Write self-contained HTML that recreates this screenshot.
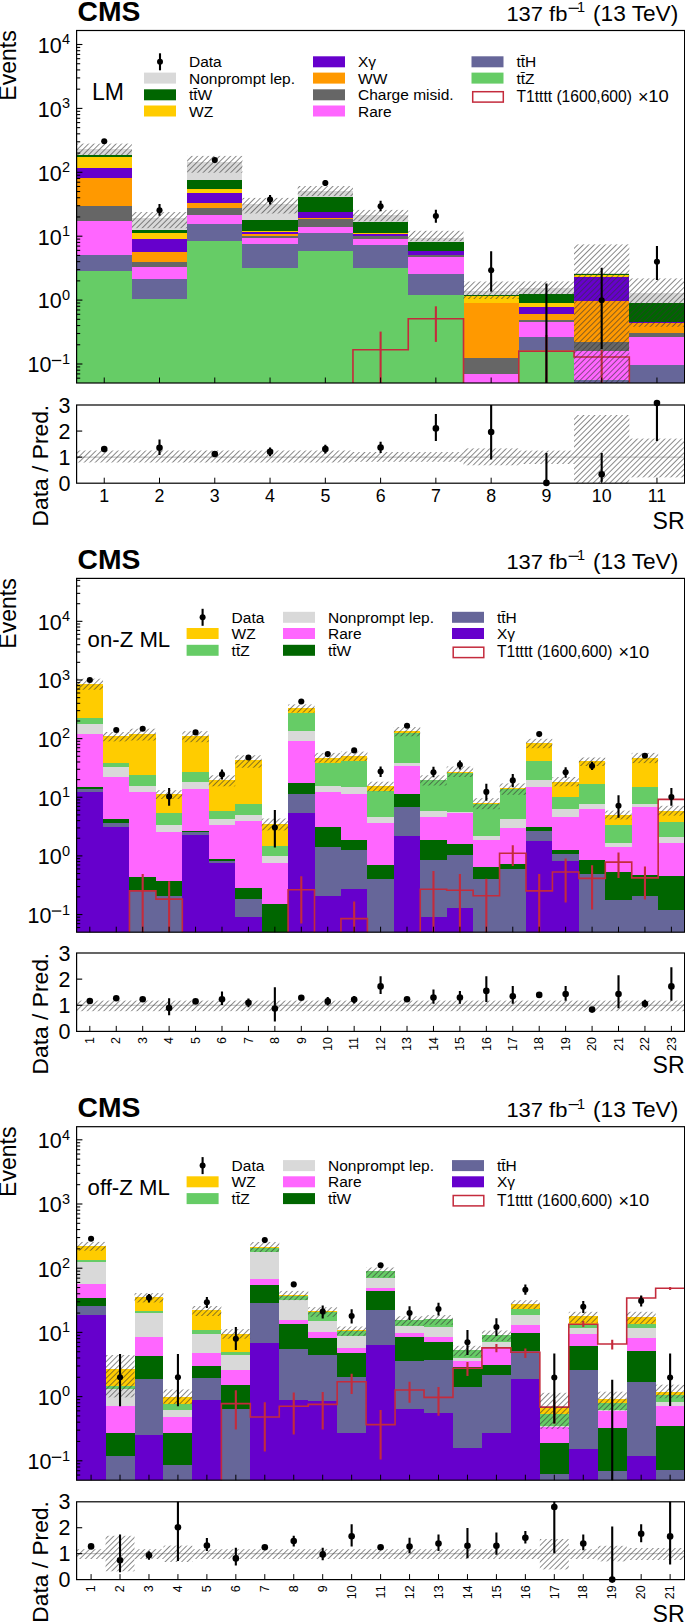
<!DOCTYPE html><html><head><meta charset="utf-8"><style>html,body{margin:0;padding:0;background:#fff;overflow:hidden;width:685px;height:1622px}svg{display:block}</style></head><body>
<svg width="685" height="1622" viewBox="0 0 685 1622" font-family="Liberation Sans, sans-serif" fill="#000">
<defs><pattern id="hatch" patternUnits="userSpaceOnUse" width="3.9" height="3.9" patternTransform="rotate(45)">
<line x1="0" y1="0" x2="0" y2="3.9" stroke="#333" stroke-width="1.15"/></pattern></defs>
<clipPath id="c1"><rect x="76.6" y="30.5" width="608.0" height="352.5"/></clipPath>
<g clip-path="url(#c1)">
<rect x="76.60" y="148.60" width="55.27" height="6.40" fill="#d9d9d9" shape-rendering="crispEdges"/>
<rect x="76.60" y="155.00" width="55.27" height="1.60" fill="#006600" shape-rendering="crispEdges"/>
<rect x="76.60" y="156.60" width="55.27" height="10.90" fill="#ffcc00" shape-rendering="crispEdges"/>
<rect x="76.60" y="167.50" width="55.27" height="10.50" fill="#6600cc" shape-rendering="crispEdges"/>
<rect x="76.60" y="178.00" width="55.27" height="27.80" fill="#ff9900" shape-rendering="crispEdges"/>
<rect x="76.60" y="205.80" width="55.27" height="15.00" fill="#666666" shape-rendering="crispEdges"/>
<rect x="76.60" y="220.80" width="55.27" height="34.40" fill="#ff66ff" shape-rendering="crispEdges"/>
<rect x="76.60" y="255.20" width="55.27" height="15.80" fill="#666699" shape-rendering="crispEdges"/>
<rect x="76.60" y="271.00" width="55.27" height="113.00" fill="#66cc66" shape-rendering="crispEdges"/>
<rect x="131.87" y="217.50" width="55.27" height="12.10" fill="#d9d9d9" shape-rendering="crispEdges"/>
<rect x="131.87" y="229.60" width="55.27" height="3.40" fill="#006600" shape-rendering="crispEdges"/>
<rect x="131.87" y="233.00" width="55.27" height="5.80" fill="#ffcc00" shape-rendering="crispEdges"/>
<rect x="131.87" y="238.80" width="55.27" height="12.90" fill="#6600cc" shape-rendering="crispEdges"/>
<rect x="131.87" y="251.70" width="55.27" height="10.50" fill="#ff9900" shape-rendering="crispEdges"/>
<rect x="131.87" y="262.20" width="55.27" height="5.00" fill="#666666" shape-rendering="crispEdges"/>
<rect x="131.87" y="267.20" width="55.27" height="12.00" fill="#ff66ff" shape-rendering="crispEdges"/>
<rect x="131.87" y="279.20" width="55.27" height="19.60" fill="#666699" shape-rendering="crispEdges"/>
<rect x="131.87" y="298.80" width="55.27" height="85.20" fill="#66cc66" shape-rendering="crispEdges"/>
<rect x="187.15" y="161.80" width="55.27" height="18.00" fill="#d9d9d9" shape-rendering="crispEdges"/>
<rect x="187.15" y="179.80" width="55.27" height="9.20" fill="#006600" shape-rendering="crispEdges"/>
<rect x="187.15" y="189.00" width="55.27" height="3.90" fill="#ffcc00" shape-rendering="crispEdges"/>
<rect x="187.15" y="192.90" width="55.27" height="10.10" fill="#6600cc" shape-rendering="crispEdges"/>
<rect x="187.15" y="203.00" width="55.27" height="4.70" fill="#ff9900" shape-rendering="crispEdges"/>
<rect x="187.15" y="207.70" width="55.27" height="7.30" fill="#666666" shape-rendering="crispEdges"/>
<rect x="187.15" y="215.00" width="55.27" height="8.90" fill="#ff66ff" shape-rendering="crispEdges"/>
<rect x="187.15" y="223.90" width="55.27" height="16.80" fill="#666699" shape-rendering="crispEdges"/>
<rect x="187.15" y="240.70" width="55.27" height="143.30" fill="#66cc66" shape-rendering="crispEdges"/>
<rect x="242.42" y="203.80" width="55.27" height="15.90" fill="#d9d9d9" shape-rendering="crispEdges"/>
<rect x="242.42" y="219.70" width="55.27" height="11.00" fill="#006600" shape-rendering="crispEdges"/>
<rect x="242.42" y="230.70" width="55.27" height="1.30" fill="#ffcc00" shape-rendering="crispEdges"/>
<rect x="242.42" y="232.00" width="55.27" height="2.30" fill="#6600cc" shape-rendering="crispEdges"/>
<rect x="242.42" y="234.30" width="55.27" height="1.40" fill="#ff9900" shape-rendering="crispEdges"/>
<rect x="242.42" y="235.70" width="55.27" height="2.00" fill="#666666" shape-rendering="crispEdges"/>
<rect x="242.42" y="237.70" width="55.27" height="6.70" fill="#ff66ff" shape-rendering="crispEdges"/>
<rect x="242.42" y="244.40" width="55.27" height="24.00" fill="#666699" shape-rendering="crispEdges"/>
<rect x="242.42" y="268.40" width="55.27" height="115.60" fill="#66cc66" shape-rendering="crispEdges"/>
<rect x="297.69" y="191.00" width="55.27" height="5.90" fill="#d9d9d9" shape-rendering="crispEdges"/>
<rect x="297.69" y="196.90" width="55.27" height="15.50" fill="#006600" shape-rendering="crispEdges"/>
<rect x="297.69" y="212.40" width="55.27" height="5.50" fill="#6600cc" shape-rendering="crispEdges"/>
<rect x="297.69" y="217.90" width="55.27" height="1.20" fill="#ff9900" shape-rendering="crispEdges"/>
<rect x="297.69" y="219.10" width="55.27" height="7.70" fill="#666666" shape-rendering="crispEdges"/>
<rect x="297.69" y="226.80" width="55.27" height="5.70" fill="#ff66ff" shape-rendering="crispEdges"/>
<rect x="297.69" y="232.50" width="55.27" height="18.10" fill="#666699" shape-rendering="crispEdges"/>
<rect x="297.69" y="250.60" width="55.27" height="133.40" fill="#66cc66" shape-rendering="crispEdges"/>
<rect x="352.96" y="215.00" width="55.27" height="6.80" fill="#d9d9d9" shape-rendering="crispEdges"/>
<rect x="352.96" y="221.80" width="55.27" height="11.20" fill="#006600" shape-rendering="crispEdges"/>
<rect x="352.96" y="233.00" width="55.27" height="1.20" fill="#ffcc00" shape-rendering="crispEdges"/>
<rect x="352.96" y="234.20" width="55.27" height="1.70" fill="#6600cc" shape-rendering="crispEdges"/>
<rect x="352.96" y="235.90" width="55.27" height="3.00" fill="#666666" shape-rendering="crispEdges"/>
<rect x="352.96" y="238.90" width="55.27" height="6.20" fill="#ff66ff" shape-rendering="crispEdges"/>
<rect x="352.96" y="245.10" width="55.27" height="23.20" fill="#666699" shape-rendering="crispEdges"/>
<rect x="352.96" y="268.30" width="55.27" height="115.70" fill="#66cc66" shape-rendering="crispEdges"/>
<rect x="408.24" y="237.80" width="55.27" height="4.20" fill="#d9d9d9" shape-rendering="crispEdges"/>
<rect x="408.24" y="242.00" width="55.27" height="9.30" fill="#006600" shape-rendering="crispEdges"/>
<rect x="408.24" y="251.30" width="55.27" height="3.30" fill="#6600cc" shape-rendering="crispEdges"/>
<rect x="408.24" y="254.60" width="55.27" height="2.50" fill="#666666" shape-rendering="crispEdges"/>
<rect x="408.24" y="257.10" width="55.27" height="16.50" fill="#ff66ff" shape-rendering="crispEdges"/>
<rect x="408.24" y="273.60" width="55.27" height="21.30" fill="#666699" shape-rendering="crispEdges"/>
<rect x="408.24" y="294.90" width="55.27" height="89.10" fill="#66cc66" shape-rendering="crispEdges"/>
<rect x="463.51" y="290.70" width="55.27" height="4.30" fill="#d9d9d9" shape-rendering="crispEdges"/>
<rect x="463.51" y="295.00" width="55.27" height="1.00" fill="#006600" shape-rendering="crispEdges"/>
<rect x="463.51" y="296.00" width="55.27" height="6.50" fill="#ffcc00" shape-rendering="crispEdges"/>
<rect x="463.51" y="302.50" width="55.27" height="55.40" fill="#ff9900" shape-rendering="crispEdges"/>
<rect x="463.51" y="357.90" width="55.27" height="15.90" fill="#666666" shape-rendering="crispEdges"/>
<rect x="463.51" y="373.80" width="55.27" height="10.20" fill="#ff66ff" shape-rendering="crispEdges"/>
<rect x="518.78" y="288.30" width="55.27" height="5.70" fill="#d9d9d9" shape-rendering="crispEdges"/>
<rect x="518.78" y="294.00" width="55.27" height="8.70" fill="#006600" shape-rendering="crispEdges"/>
<rect x="518.78" y="302.70" width="55.27" height="4.70" fill="#ffcc00" shape-rendering="crispEdges"/>
<rect x="518.78" y="307.40" width="55.27" height="7.00" fill="#6600cc" shape-rendering="crispEdges"/>
<rect x="518.78" y="314.40" width="55.27" height="5.40" fill="#ff9900" shape-rendering="crispEdges"/>
<rect x="518.78" y="319.80" width="55.27" height="2.00" fill="#666666" shape-rendering="crispEdges"/>
<rect x="518.78" y="321.80" width="55.27" height="14.90" fill="#ff66ff" shape-rendering="crispEdges"/>
<rect x="518.78" y="336.70" width="55.27" height="13.60" fill="#666699" shape-rendering="crispEdges"/>
<rect x="518.78" y="350.30" width="55.27" height="33.70" fill="#66cc66" shape-rendering="crispEdges"/>
<rect x="574.05" y="272.70" width="55.27" height="0.80" fill="#d9d9d9" shape-rendering="crispEdges"/>
<rect x="574.05" y="273.50" width="55.27" height="1.00" fill="#006600" shape-rendering="crispEdges"/>
<rect x="574.05" y="274.50" width="55.27" height="2.60" fill="#ffcc00" shape-rendering="crispEdges"/>
<rect x="574.05" y="277.10" width="55.27" height="23.60" fill="#6600cc" shape-rendering="crispEdges"/>
<rect x="574.05" y="300.70" width="55.27" height="41.70" fill="#ff9900" shape-rendering="crispEdges"/>
<rect x="574.05" y="342.40" width="55.27" height="8.70" fill="#666666" shape-rendering="crispEdges"/>
<rect x="574.05" y="351.10" width="55.27" height="29.00" fill="#ff66ff" shape-rendering="crispEdges"/>
<rect x="574.05" y="380.10" width="55.27" height="3.90" fill="#666699" shape-rendering="crispEdges"/>
<rect x="629.33" y="293.30" width="55.27" height="9.90" fill="#d9d9d9" shape-rendering="crispEdges"/>
<rect x="629.33" y="303.20" width="55.27" height="18.60" fill="#006600" shape-rendering="crispEdges"/>
<rect x="629.33" y="321.80" width="55.27" height="1.20" fill="#6600cc" shape-rendering="crispEdges"/>
<rect x="629.33" y="323.00" width="55.27" height="10.00" fill="#ff9900" shape-rendering="crispEdges"/>
<rect x="629.33" y="333.00" width="55.27" height="4.20" fill="#666666" shape-rendering="crispEdges"/>
<rect x="629.33" y="337.20" width="55.27" height="27.50" fill="#ff66ff" shape-rendering="crispEdges"/>
<rect x="629.33" y="364.70" width="55.27" height="19.30" fill="#666699" shape-rendering="crispEdges"/>
<path d="M76.60,385.00 L131.87,385.00 L131.87,385.00 L187.15,385.00 L187.15,385.00 L242.42,385.00 L242.42,385.00 L297.69,385.00 L297.69,385.00 L352.96,385.00 L352.96,349.70 L408.24,349.70 L408.24,318.80 L463.51,318.80 L463.51,385.00 L518.78,385.00 L518.78,351.10 L574.05,351.10 L574.05,357.00 L629.33,357.00 L629.33,385.00 L684.60,385.00" fill="none" stroke="#c42b3c" stroke-width="1.6"/>
<line x1="380.60" y1="331.60" x2="380.60" y2="390.00" stroke="#c42b3c" stroke-width="2.1"/>
<line x1="435.87" y1="306.30" x2="435.87" y2="341.90" stroke="#c42b3c" stroke-width="2.1"/>
<line x1="546.42" y1="335.00" x2="546.42" y2="390.00" stroke="#c42b3c" stroke-width="2.1"/>
<line x1="601.69" y1="349.90" x2="601.69" y2="390.00" stroke="#c42b3c" stroke-width="2.1"/>
<rect x="76.60" y="143.60" width="55.27" height="11.40" fill="url(#hatch)"/>
<rect x="131.87" y="212.00" width="55.27" height="16.20" fill="url(#hatch)"/>
<rect x="187.15" y="155.90" width="55.27" height="16.80" fill="url(#hatch)"/>
<rect x="242.42" y="197.90" width="55.27" height="15.60" fill="url(#hatch)"/>
<rect x="297.69" y="186.00" width="55.27" height="10.10" fill="url(#hatch)"/>
<rect x="352.96" y="209.90" width="55.27" height="11.40" fill="url(#hatch)"/>
<rect x="408.24" y="230.80" width="55.27" height="10.40" fill="url(#hatch)"/>
<rect x="463.51" y="281.50" width="55.27" height="17.50" fill="url(#hatch)"/>
<rect x="518.78" y="281.40" width="55.27" height="13.10" fill="url(#hatch)"/>
<rect x="574.05" y="244.40" width="55.27" height="145.60" fill="url(#hatch)"/>
<rect x="629.33" y="278.40" width="55.27" height="48.40" fill="url(#hatch)"/>
<circle cx="104.24" cy="141.30" r="3.05" fill="#000"/>
<line x1="159.51" y1="204.00" x2="159.51" y2="215.80" stroke="#000" stroke-width="2.1"/>
<circle cx="159.51" cy="210.20" r="3.05" fill="#000"/>
<circle cx="214.78" cy="160.10" r="3.05" fill="#000"/>
<line x1="270.05" y1="195.00" x2="270.05" y2="204.60" stroke="#000" stroke-width="2.1"/>
<circle cx="270.05" cy="199.60" r="3.05" fill="#000"/>
<line x1="325.33" y1="180.00" x2="325.33" y2="186.00" stroke="#000" stroke-width="2.1"/>
<circle cx="325.33" cy="183.00" r="3.05" fill="#000"/>
<line x1="380.60" y1="200.80" x2="380.60" y2="211.20" stroke="#000" stroke-width="2.1"/>
<circle cx="380.60" cy="206.20" r="3.05" fill="#000"/>
<line x1="435.87" y1="209.80" x2="435.87" y2="222.70" stroke="#000" stroke-width="2.1"/>
<circle cx="435.87" cy="216.00" r="3.05" fill="#000"/>
<line x1="491.15" y1="251.30" x2="491.15" y2="291.60" stroke="#000" stroke-width="2.1"/>
<circle cx="491.15" cy="270.20" r="3.05" fill="#000"/>
<line x1="546.42" y1="283.40" x2="546.42" y2="390.00" stroke="#000" stroke-width="2.1"/>
<line x1="601.69" y1="267.70" x2="601.69" y2="349.10" stroke="#000" stroke-width="2.1"/>
<circle cx="601.69" cy="300.20" r="3.05" fill="#000"/>
<line x1="656.96" y1="246.10" x2="656.96" y2="280.10" stroke="#000" stroke-width="2.1"/>
<circle cx="656.96" cy="261.80" r="3.05" fill="#000"/>
</g>
<rect x="76.6" y="30.5" width="608.0" height="352.5" fill="none" stroke="#000" stroke-width="1.2"/>
<line x1="76.6" y1="378.18" x2="80.19999999999999" y2="378.18" stroke="#000" stroke-width="1.1"/>
<line x1="76.6" y1="373.90" x2="80.19999999999999" y2="373.90" stroke="#000" stroke-width="1.1"/>
<line x1="76.6" y1="370.19" x2="80.19999999999999" y2="370.19" stroke="#000" stroke-width="1.1"/>
<line x1="76.6" y1="366.92" x2="80.19999999999999" y2="366.92" stroke="#000" stroke-width="1.1"/>
<line x1="76.6" y1="364.00" x2="82.39999999999999" y2="364.00" stroke="#000" stroke-width="1.1"/>
<line x1="76.6" y1="344.76" x2="80.19999999999999" y2="344.76" stroke="#000" stroke-width="1.1"/>
<line x1="76.6" y1="333.51" x2="80.19999999999999" y2="333.51" stroke="#000" stroke-width="1.1"/>
<line x1="76.6" y1="325.53" x2="80.19999999999999" y2="325.53" stroke="#000" stroke-width="1.1"/>
<line x1="76.6" y1="319.34" x2="80.19999999999999" y2="319.34" stroke="#000" stroke-width="1.1"/>
<line x1="76.6" y1="314.28" x2="80.19999999999999" y2="314.28" stroke="#000" stroke-width="1.1"/>
<line x1="76.6" y1="310.00" x2="80.19999999999999" y2="310.00" stroke="#000" stroke-width="1.1"/>
<line x1="76.6" y1="306.29" x2="80.19999999999999" y2="306.29" stroke="#000" stroke-width="1.1"/>
<line x1="76.6" y1="303.02" x2="80.19999999999999" y2="303.02" stroke="#000" stroke-width="1.1"/>
<line x1="76.6" y1="300.10" x2="82.39999999999999" y2="300.10" stroke="#000" stroke-width="1.1"/>
<line x1="76.6" y1="280.86" x2="80.19999999999999" y2="280.86" stroke="#000" stroke-width="1.1"/>
<line x1="76.6" y1="269.61" x2="80.19999999999999" y2="269.61" stroke="#000" stroke-width="1.1"/>
<line x1="76.6" y1="261.63" x2="80.19999999999999" y2="261.63" stroke="#000" stroke-width="1.1"/>
<line x1="76.6" y1="255.44" x2="80.19999999999999" y2="255.44" stroke="#000" stroke-width="1.1"/>
<line x1="76.6" y1="250.38" x2="80.19999999999999" y2="250.38" stroke="#000" stroke-width="1.1"/>
<line x1="76.6" y1="246.10" x2="80.19999999999999" y2="246.10" stroke="#000" stroke-width="1.1"/>
<line x1="76.6" y1="242.39" x2="80.19999999999999" y2="242.39" stroke="#000" stroke-width="1.1"/>
<line x1="76.6" y1="239.12" x2="80.19999999999999" y2="239.12" stroke="#000" stroke-width="1.1"/>
<line x1="76.6" y1="236.20" x2="82.39999999999999" y2="236.20" stroke="#000" stroke-width="1.1"/>
<line x1="76.6" y1="216.96" x2="80.19999999999999" y2="216.96" stroke="#000" stroke-width="1.1"/>
<line x1="76.6" y1="205.71" x2="80.19999999999999" y2="205.71" stroke="#000" stroke-width="1.1"/>
<line x1="76.6" y1="197.73" x2="80.19999999999999" y2="197.73" stroke="#000" stroke-width="1.1"/>
<line x1="76.6" y1="191.54" x2="80.19999999999999" y2="191.54" stroke="#000" stroke-width="1.1"/>
<line x1="76.6" y1="186.48" x2="80.19999999999999" y2="186.48" stroke="#000" stroke-width="1.1"/>
<line x1="76.6" y1="182.20" x2="80.19999999999999" y2="182.20" stroke="#000" stroke-width="1.1"/>
<line x1="76.6" y1="178.49" x2="80.19999999999999" y2="178.49" stroke="#000" stroke-width="1.1"/>
<line x1="76.6" y1="175.22" x2="80.19999999999999" y2="175.22" stroke="#000" stroke-width="1.1"/>
<line x1="76.6" y1="172.30" x2="82.39999999999999" y2="172.30" stroke="#000" stroke-width="1.1"/>
<line x1="76.6" y1="153.06" x2="80.19999999999999" y2="153.06" stroke="#000" stroke-width="1.1"/>
<line x1="76.6" y1="141.81" x2="80.19999999999999" y2="141.81" stroke="#000" stroke-width="1.1"/>
<line x1="76.6" y1="133.83" x2="80.19999999999999" y2="133.83" stroke="#000" stroke-width="1.1"/>
<line x1="76.6" y1="127.64" x2="80.19999999999999" y2="127.64" stroke="#000" stroke-width="1.1"/>
<line x1="76.6" y1="122.58" x2="80.19999999999999" y2="122.58" stroke="#000" stroke-width="1.1"/>
<line x1="76.6" y1="118.30" x2="80.19999999999999" y2="118.30" stroke="#000" stroke-width="1.1"/>
<line x1="76.6" y1="114.59" x2="80.19999999999999" y2="114.59" stroke="#000" stroke-width="1.1"/>
<line x1="76.6" y1="111.32" x2="80.19999999999999" y2="111.32" stroke="#000" stroke-width="1.1"/>
<line x1="76.6" y1="108.40" x2="82.39999999999999" y2="108.40" stroke="#000" stroke-width="1.1"/>
<line x1="76.6" y1="89.16" x2="80.19999999999999" y2="89.16" stroke="#000" stroke-width="1.1"/>
<line x1="76.6" y1="77.91" x2="80.19999999999999" y2="77.91" stroke="#000" stroke-width="1.1"/>
<line x1="76.6" y1="69.93" x2="80.19999999999999" y2="69.93" stroke="#000" stroke-width="1.1"/>
<line x1="76.6" y1="63.74" x2="80.19999999999999" y2="63.74" stroke="#000" stroke-width="1.1"/>
<line x1="76.6" y1="58.68" x2="80.19999999999999" y2="58.68" stroke="#000" stroke-width="1.1"/>
<line x1="76.6" y1="54.40" x2="80.19999999999999" y2="54.40" stroke="#000" stroke-width="1.1"/>
<line x1="76.6" y1="50.69" x2="80.19999999999999" y2="50.69" stroke="#000" stroke-width="1.1"/>
<line x1="76.6" y1="47.42" x2="80.19999999999999" y2="47.42" stroke="#000" stroke-width="1.1"/>
<line x1="76.6" y1="44.50" x2="82.39999999999999" y2="44.50" stroke="#000" stroke-width="1.1"/>
<line x1="104.24" y1="383" x2="104.24" y2="377.5" stroke="#000" stroke-width="1"/>
<line x1="159.51" y1="383" x2="159.51" y2="377.5" stroke="#000" stroke-width="1"/>
<line x1="214.78" y1="383" x2="214.78" y2="377.5" stroke="#000" stroke-width="1"/>
<line x1="270.05" y1="383" x2="270.05" y2="377.5" stroke="#000" stroke-width="1"/>
<line x1="325.33" y1="383" x2="325.33" y2="377.5" stroke="#000" stroke-width="1"/>
<line x1="380.60" y1="383" x2="380.60" y2="377.5" stroke="#000" stroke-width="1"/>
<line x1="435.87" y1="383" x2="435.87" y2="377.5" stroke="#000" stroke-width="1"/>
<line x1="491.15" y1="383" x2="491.15" y2="377.5" stroke="#000" stroke-width="1"/>
<line x1="546.42" y1="383" x2="546.42" y2="377.5" stroke="#000" stroke-width="1"/>
<line x1="601.69" y1="383" x2="601.69" y2="377.5" stroke="#000" stroke-width="1"/>
<line x1="656.96" y1="383" x2="656.96" y2="377.5" stroke="#000" stroke-width="1"/>
<text x="51.4" y="372.30" font-size="21.5" text-anchor="end">10</text>
<line x1="51.8" y1="360.50" x2="61.3" y2="360.50" stroke="#000" stroke-width="1.3"/>
<text x="70.1" y="364.00" font-size="14.5" text-anchor="end">1</text>
<text x="61.6" y="308.40" font-size="21.5" text-anchor="end">10</text>
<text x="70.2" y="299.80" font-size="14.5" text-anchor="end">0</text>
<text x="61.6" y="244.50" font-size="21.5" text-anchor="end">10</text>
<text x="70.2" y="235.90" font-size="14.5" text-anchor="end">1</text>
<text x="61.6" y="180.60" font-size="21.5" text-anchor="end">10</text>
<text x="70.2" y="172.00" font-size="14.5" text-anchor="end">2</text>
<text x="61.6" y="116.70" font-size="21.5" text-anchor="end">10</text>
<text x="70.2" y="108.10" font-size="14.5" text-anchor="end">3</text>
<text x="61.6" y="52.80" font-size="21.5" text-anchor="end">10</text>
<text x="70.2" y="44.20" font-size="14.5" text-anchor="end">4</text>
<text x="77.50" y="20.50" font-size="28.3" text-anchor="start" font-weight="bold" >CMS</text>
<text x="506.4" y="20.70" font-size="21" textLength="61" lengthAdjust="spacingAndGlyphs">137 fb</text>
<line x1="568.6" y1="8.30" x2="578.8" y2="8.30" stroke="#000" stroke-width="1.2"/>
<text x="585" y="12.40" font-size="14.5" text-anchor="end">1</text>
<text x="593" y="20.70" font-size="21.5" textLength="85.3" lengthAdjust="spacingAndGlyphs">(13 TeV)</text>
<text transform="translate(16.3,30.3) rotate(-90)" font-size="23" text-anchor="end">Events</text>
<clipPath id="r1"><rect x="76.6" y="405" width="608.0" height="78.19999999999999"/></clipPath>
<g clip-path="url(#r1)">
<line x1="76.6" y1="457.13" x2="684.6" y2="457.13" stroke="#b8b8b8" stroke-width="1"/>
<rect x="76.60" y="450.50" width="55.27" height="12.00" fill="url(#hatch)"/>
<rect x="131.87" y="450.50" width="55.27" height="12.00" fill="url(#hatch)"/>
<rect x="187.15" y="450.50" width="55.27" height="12.00" fill="url(#hatch)"/>
<rect x="242.42" y="450.50" width="55.27" height="12.00" fill="url(#hatch)"/>
<rect x="297.69" y="450.50" width="55.27" height="12.00" fill="url(#hatch)"/>
<rect x="352.96" y="452.00" width="55.27" height="9.80" fill="url(#hatch)"/>
<rect x="408.24" y="452.00" width="55.27" height="9.80" fill="url(#hatch)"/>
<rect x="463.51" y="448.40" width="55.27" height="16.90" fill="url(#hatch)"/>
<rect x="518.78" y="450.60" width="55.27" height="13.40" fill="url(#hatch)"/>
<rect x="574.05" y="415.00" width="55.27" height="75.00" fill="url(#hatch)"/>
<rect x="629.33" y="438.60" width="55.27" height="38.80" fill="url(#hatch)"/>
<line x1="159.51" y1="439.40" x2="159.51" y2="454.90" stroke="#000" stroke-width="2.1"/>
<line x1="270.05" y1="447.50" x2="270.05" y2="456.20" stroke="#000" stroke-width="2.1"/>
<line x1="325.33" y1="444.70" x2="325.33" y2="453.50" stroke="#000" stroke-width="2.1"/>
<line x1="380.60" y1="441.80" x2="380.60" y2="453.00" stroke="#000" stroke-width="2.1"/>
<line x1="435.87" y1="414.10" x2="435.87" y2="440.90" stroke="#000" stroke-width="2.1"/>
<line x1="491.15" y1="403.00" x2="491.15" y2="459.60" stroke="#000" stroke-width="2.1"/>
<line x1="546.42" y1="452.90" x2="546.42" y2="482.90" stroke="#000" stroke-width="2.1"/>
<line x1="601.69" y1="452.90" x2="601.69" y2="481.80" stroke="#000" stroke-width="2.1"/>
<line x1="656.96" y1="403.00" x2="656.96" y2="440.90" stroke="#000" stroke-width="2.1"/>
</g>
<circle cx="104.24" cy="449.10" r="3.3" fill="#000"/>
<circle cx="159.51" cy="447.80" r="3.3" fill="#000"/>
<circle cx="214.78" cy="454.00" r="3.3" fill="#000"/>
<circle cx="270.05" cy="451.80" r="3.3" fill="#000"/>
<circle cx="325.33" cy="449.10" r="3.3" fill="#000"/>
<circle cx="380.60" cy="447.50" r="3.3" fill="#000"/>
<circle cx="435.87" cy="428.40" r="3.3" fill="#000"/>
<circle cx="491.15" cy="432.00" r="3.3" fill="#000"/>
<circle cx="546.42" cy="482.90" r="3.3" fill="#000"/>
<circle cx="601.69" cy="474.30" r="3.3" fill="#000"/>
<circle cx="656.96" cy="403.00" r="3.3" fill="#000"/>
<rect x="76.6" y="405" width="608.0" height="78.19999999999999" fill="none" stroke="#000" stroke-width="1.2"/>
<line x1="76.6" y1="457.13" x2="82.19999999999999" y2="457.13" stroke="#000" stroke-width="1.1"/>
<line x1="76.6" y1="431.07" x2="82.19999999999999" y2="431.07" stroke="#000" stroke-width="1.1"/>
<line x1="104.24" y1="483.2" x2="104.24" y2="477.7" stroke="#000" stroke-width="1"/>
<line x1="159.51" y1="483.2" x2="159.51" y2="477.7" stroke="#000" stroke-width="1"/>
<line x1="214.78" y1="483.2" x2="214.78" y2="477.7" stroke="#000" stroke-width="1"/>
<line x1="270.05" y1="483.2" x2="270.05" y2="477.7" stroke="#000" stroke-width="1"/>
<line x1="325.33" y1="483.2" x2="325.33" y2="477.7" stroke="#000" stroke-width="1"/>
<line x1="380.60" y1="483.2" x2="380.60" y2="477.7" stroke="#000" stroke-width="1"/>
<line x1="435.87" y1="483.2" x2="435.87" y2="477.7" stroke="#000" stroke-width="1"/>
<line x1="491.15" y1="483.2" x2="491.15" y2="477.7" stroke="#000" stroke-width="1"/>
<line x1="546.42" y1="483.2" x2="546.42" y2="477.7" stroke="#000" stroke-width="1"/>
<line x1="601.69" y1="483.2" x2="601.69" y2="477.7" stroke="#000" stroke-width="1"/>
<line x1="656.96" y1="483.2" x2="656.96" y2="477.7" stroke="#000" stroke-width="1"/>
<text x="70.5" y="490.80" font-size="21.5" text-anchor="end">0</text>
<text x="70.5" y="464.73" font-size="21.5" text-anchor="end">1</text>
<text x="70.5" y="438.67" font-size="21.5" text-anchor="end">2</text>
<text x="70.5" y="412.60" font-size="21.5" text-anchor="end">3</text>
<text transform="translate(47.8,404.8) rotate(-90)" font-size="22.8" text-anchor="end">Data / Pred.</text>
<text x="104.24" y="502.4" font-size="17.8" text-anchor="middle">1</text>
<text x="159.51" y="502.4" font-size="17.8" text-anchor="middle">2</text>
<text x="214.78" y="502.4" font-size="17.8" text-anchor="middle">3</text>
<text x="270.05" y="502.4" font-size="17.8" text-anchor="middle">4</text>
<text x="325.33" y="502.4" font-size="17.8" text-anchor="middle">5</text>
<text x="380.60" y="502.4" font-size="17.8" text-anchor="middle">6</text>
<text x="435.87" y="502.4" font-size="17.8" text-anchor="middle">7</text>
<text x="491.15" y="502.4" font-size="17.8" text-anchor="middle">8</text>
<text x="546.42" y="502.4" font-size="17.8" text-anchor="middle">9</text>
<text x="601.69" y="502.4" font-size="17.8" text-anchor="middle">10</text>
<text x="656.96" y="502.4" font-size="17.8" text-anchor="middle">11</text>
<text x="684.6" y="528.7" font-size="23.1" text-anchor="end">SR</text>
<text x="92.00" y="99.60" font-size="23" text-anchor="start" font-weight="normal" >LM</text>
<line x1="160.00" y1="53.30" x2="160.00" y2="70.30" stroke="#000" stroke-width="2.1"/>
<circle cx="160.00" cy="61.80" r="3" fill="#000"/>
<text x="189.00" y="67.30" font-size="15.5">Data</text>
<rect x="144.00" y="72.60" width="32" height="11" fill="#d9d9d9"/>
<text x="189.00" y="83.60" font-size="15.5">Nonprompt lep.</text>
<rect x="144.00" y="89.30" width="32" height="11" fill="#006600"/>
<text x="189.00" y="100.30" font-size="15.5">tt&#772;W</text>
<rect x="144.00" y="105.50" width="32" height="11" fill="#ffcc00"/>
<text x="189.00" y="116.50" font-size="15.5">WZ</text>
<rect x="313.00" y="56.30" width="32" height="11" fill="#6600cc"/>
<text x="358.00" y="67.30" font-size="15.5">X&#947;</text>
<rect x="313.00" y="72.60" width="32" height="11" fill="#ff9900"/>
<text x="358.00" y="83.60" font-size="15.5">WW</text>
<rect x="313.00" y="89.30" width="32" height="11" fill="#666666"/>
<text x="358.00" y="100.30" font-size="15.5">Charge misid.</text>
<rect x="313.00" y="105.50" width="32" height="11" fill="#ff66ff"/>
<text x="358.00" y="116.50" font-size="15.5">Rare</text>
<rect x="471.50" y="56.30" width="32" height="11" fill="#666699"/>
<text x="516.50" y="67.30" font-size="15.5">tt&#772;H</text>
<rect x="471.50" y="72.60" width="32" height="11" fill="#66cc66"/>
<text x="516.50" y="83.60" font-size="15.5">tt&#772;Z</text>
<rect x="472.70" y="91.70" width="30.6" height="10.4" fill="none" stroke="#c42b3c" stroke-width="1.5"/>
<text x="516.50" y="101.70" font-size="16.2" textLength="115.4" lengthAdjust="spacingAndGlyphs">T1tttt (1600,600)</text>
<text x="638.00" y="102.90" font-size="18">&#215;</text>
<text x="648.30" y="102.00" font-size="16.5" textLength="20.5" lengthAdjust="spacingAndGlyphs">10</text>
<clipPath id="c2"><rect x="76.6" y="578.4" width="608.0" height="353.80000000000007"/></clipPath>
<g clip-path="url(#c2)">
<rect x="76.60" y="683.70" width="26.43" height="34.30" fill="#ffcc00" shape-rendering="crispEdges"/>
<rect x="76.60" y="718.00" width="26.43" height="6.10" fill="#66cc66" shape-rendering="crispEdges"/>
<rect x="76.60" y="724.10" width="26.43" height="9.70" fill="#d9d9d9" shape-rendering="crispEdges"/>
<rect x="76.60" y="733.80" width="26.43" height="53.40" fill="#ff66ff" shape-rendering="crispEdges"/>
<rect x="76.60" y="787.20" width="26.43" height="1.70" fill="#006600" shape-rendering="crispEdges"/>
<rect x="76.60" y="788.90" width="26.43" height="3.00" fill="#666699" shape-rendering="crispEdges"/>
<rect x="76.60" y="791.90" width="26.43" height="141.30" fill="#6600cc" shape-rendering="crispEdges"/>
<rect x="103.03" y="736.30" width="26.43" height="26.30" fill="#ffcc00" shape-rendering="crispEdges"/>
<rect x="103.03" y="762.60" width="26.43" height="4.60" fill="#66cc66" shape-rendering="crispEdges"/>
<rect x="103.03" y="767.20" width="26.43" height="9.80" fill="#d9d9d9" shape-rendering="crispEdges"/>
<rect x="103.03" y="777.00" width="26.43" height="41.50" fill="#ff66ff" shape-rendering="crispEdges"/>
<rect x="103.03" y="818.50" width="26.43" height="4.60" fill="#006600" shape-rendering="crispEdges"/>
<rect x="103.03" y="823.10" width="26.43" height="3.60" fill="#666699" shape-rendering="crispEdges"/>
<rect x="103.03" y="826.70" width="26.43" height="106.50" fill="#6600cc" shape-rendering="crispEdges"/>
<rect x="129.47" y="733.80" width="26.43" height="41.20" fill="#ffcc00" shape-rendering="crispEdges"/>
<rect x="129.47" y="775.00" width="26.43" height="11.00" fill="#66cc66" shape-rendering="crispEdges"/>
<rect x="129.47" y="786.00" width="26.43" height="5.90" fill="#d9d9d9" shape-rendering="crispEdges"/>
<rect x="129.47" y="791.90" width="26.43" height="84.80" fill="#ff66ff" shape-rendering="crispEdges"/>
<rect x="129.47" y="876.70" width="26.43" height="14.20" fill="#006600" shape-rendering="crispEdges"/>
<rect x="129.47" y="890.90" width="26.43" height="42.30" fill="#666699" shape-rendering="crispEdges"/>
<rect x="155.90" y="794.00" width="26.43" height="19.40" fill="#ffcc00" shape-rendering="crispEdges"/>
<rect x="155.90" y="813.40" width="26.43" height="11.90" fill="#66cc66" shape-rendering="crispEdges"/>
<rect x="155.90" y="825.30" width="26.43" height="6.30" fill="#d9d9d9" shape-rendering="crispEdges"/>
<rect x="155.90" y="831.60" width="26.43" height="49.70" fill="#ff66ff" shape-rendering="crispEdges"/>
<rect x="155.90" y="881.30" width="26.43" height="14.40" fill="#006600" shape-rendering="crispEdges"/>
<rect x="155.90" y="895.70" width="26.43" height="37.50" fill="#666699" shape-rendering="crispEdges"/>
<rect x="182.34" y="736.00" width="26.43" height="36.40" fill="#ffcc00" shape-rendering="crispEdges"/>
<rect x="182.34" y="772.40" width="26.43" height="9.30" fill="#66cc66" shape-rendering="crispEdges"/>
<rect x="182.34" y="781.70" width="26.43" height="7.20" fill="#d9d9d9" shape-rendering="crispEdges"/>
<rect x="182.34" y="788.90" width="26.43" height="42.30" fill="#ff66ff" shape-rendering="crispEdges"/>
<rect x="182.34" y="831.20" width="26.43" height="1.10" fill="#006600" shape-rendering="crispEdges"/>
<rect x="182.34" y="832.30" width="26.43" height="2.30" fill="#666699" shape-rendering="crispEdges"/>
<rect x="182.34" y="834.60" width="26.43" height="98.60" fill="#6600cc" shape-rendering="crispEdges"/>
<rect x="208.77" y="780.00" width="26.43" height="30.90" fill="#ffcc00" shape-rendering="crispEdges"/>
<rect x="208.77" y="810.90" width="26.43" height="8.00" fill="#66cc66" shape-rendering="crispEdges"/>
<rect x="208.77" y="818.90" width="26.43" height="5.90" fill="#d9d9d9" shape-rendering="crispEdges"/>
<rect x="208.77" y="824.80" width="26.43" height="33.90" fill="#ff66ff" shape-rendering="crispEdges"/>
<rect x="208.77" y="858.70" width="26.43" height="2.20" fill="#006600" shape-rendering="crispEdges"/>
<rect x="208.77" y="860.90" width="26.43" height="2.10" fill="#666699" shape-rendering="crispEdges"/>
<rect x="208.77" y="863.00" width="26.43" height="70.20" fill="#6600cc" shape-rendering="crispEdges"/>
<rect x="235.21" y="760.00" width="26.43" height="44.10" fill="#ffcc00" shape-rendering="crispEdges"/>
<rect x="235.21" y="804.10" width="26.43" height="11.00" fill="#66cc66" shape-rendering="crispEdges"/>
<rect x="235.21" y="815.10" width="26.43" height="5.60" fill="#d9d9d9" shape-rendering="crispEdges"/>
<rect x="235.21" y="820.70" width="26.43" height="67.30" fill="#ff66ff" shape-rendering="crispEdges"/>
<rect x="235.21" y="888.00" width="26.43" height="11.10" fill="#006600" shape-rendering="crispEdges"/>
<rect x="235.21" y="899.10" width="26.43" height="18.30" fill="#666699" shape-rendering="crispEdges"/>
<rect x="235.21" y="917.40" width="26.43" height="15.80" fill="#6600cc" shape-rendering="crispEdges"/>
<rect x="261.64" y="823.60" width="26.43" height="22.60" fill="#ffcc00" shape-rendering="crispEdges"/>
<rect x="261.64" y="846.20" width="26.43" height="9.60" fill="#66cc66" shape-rendering="crispEdges"/>
<rect x="261.64" y="855.80" width="26.43" height="6.80" fill="#d9d9d9" shape-rendering="crispEdges"/>
<rect x="261.64" y="862.60" width="26.43" height="41.60" fill="#ff66ff" shape-rendering="crispEdges"/>
<rect x="261.64" y="904.20" width="26.43" height="29.00" fill="#006600" shape-rendering="crispEdges"/>
<rect x="288.08" y="708.30" width="26.43" height="4.30" fill="#ffcc00" shape-rendering="crispEdges"/>
<rect x="288.08" y="712.60" width="26.43" height="18.30" fill="#66cc66" shape-rendering="crispEdges"/>
<rect x="288.08" y="730.90" width="26.43" height="10.10" fill="#d9d9d9" shape-rendering="crispEdges"/>
<rect x="288.08" y="741.00" width="26.43" height="42.30" fill="#ff66ff" shape-rendering="crispEdges"/>
<rect x="288.08" y="783.30" width="26.43" height="10.30" fill="#006600" shape-rendering="crispEdges"/>
<rect x="288.08" y="793.60" width="26.43" height="19.50" fill="#666699" shape-rendering="crispEdges"/>
<rect x="288.08" y="813.10" width="26.43" height="120.10" fill="#6600cc" shape-rendering="crispEdges"/>
<rect x="314.51" y="757.50" width="26.43" height="5.10" fill="#ffcc00" shape-rendering="crispEdges"/>
<rect x="314.51" y="762.60" width="26.43" height="23.70" fill="#66cc66" shape-rendering="crispEdges"/>
<rect x="314.51" y="786.30" width="26.43" height="5.60" fill="#d9d9d9" shape-rendering="crispEdges"/>
<rect x="314.51" y="791.90" width="26.43" height="35.10" fill="#ff66ff" shape-rendering="crispEdges"/>
<rect x="314.51" y="827.00" width="26.43" height="20.40" fill="#006600" shape-rendering="crispEdges"/>
<rect x="314.51" y="847.40" width="26.43" height="48.30" fill="#666699" shape-rendering="crispEdges"/>
<rect x="314.51" y="895.70" width="26.43" height="37.50" fill="#6600cc" shape-rendering="crispEdges"/>
<rect x="340.95" y="755.80" width="26.43" height="5.10" fill="#ffcc00" shape-rendering="crispEdges"/>
<rect x="340.95" y="760.90" width="26.43" height="26.30" fill="#66cc66" shape-rendering="crispEdges"/>
<rect x="340.95" y="787.20" width="26.43" height="6.80" fill="#d9d9d9" shape-rendering="crispEdges"/>
<rect x="340.95" y="794.00" width="26.43" height="46.10" fill="#ff66ff" shape-rendering="crispEdges"/>
<rect x="340.95" y="840.10" width="26.43" height="9.80" fill="#006600" shape-rendering="crispEdges"/>
<rect x="340.95" y="849.90" width="26.43" height="39.00" fill="#666699" shape-rendering="crispEdges"/>
<rect x="340.95" y="888.90" width="26.43" height="44.30" fill="#6600cc" shape-rendering="crispEdges"/>
<rect x="367.38" y="785.50" width="26.43" height="5.90" fill="#ffcc00" shape-rendering="crispEdges"/>
<rect x="367.38" y="791.40" width="26.43" height="25.40" fill="#66cc66" shape-rendering="crispEdges"/>
<rect x="367.38" y="816.80" width="26.43" height="6.30" fill="#d9d9d9" shape-rendering="crispEdges"/>
<rect x="367.38" y="823.10" width="26.43" height="41.70" fill="#ff66ff" shape-rendering="crispEdges"/>
<rect x="367.38" y="864.80" width="26.43" height="13.90" fill="#006600" shape-rendering="crispEdges"/>
<rect x="367.38" y="878.70" width="26.43" height="54.50" fill="#666699" shape-rendering="crispEdges"/>
<rect x="393.82" y="731.20" width="26.43" height="1.40" fill="#ffcc00" shape-rendering="crispEdges"/>
<rect x="393.82" y="732.60" width="26.43" height="30.00" fill="#66cc66" shape-rendering="crispEdges"/>
<rect x="393.82" y="762.60" width="26.43" height="2.90" fill="#d9d9d9" shape-rendering="crispEdges"/>
<rect x="393.82" y="765.50" width="26.43" height="28.10" fill="#ff66ff" shape-rendering="crispEdges"/>
<rect x="393.82" y="793.60" width="26.43" height="13.60" fill="#006600" shape-rendering="crispEdges"/>
<rect x="393.82" y="807.20" width="26.43" height="28.80" fill="#666699" shape-rendering="crispEdges"/>
<rect x="393.82" y="836.00" width="26.43" height="97.20" fill="#6600cc" shape-rendering="crispEdges"/>
<rect x="420.25" y="779.50" width="26.43" height="0.90" fill="#ffcc00" shape-rendering="crispEdges"/>
<rect x="420.25" y="780.40" width="26.43" height="30.50" fill="#66cc66" shape-rendering="crispEdges"/>
<rect x="420.25" y="810.90" width="26.43" height="5.90" fill="#d9d9d9" shape-rendering="crispEdges"/>
<rect x="420.25" y="816.80" width="26.43" height="23.30" fill="#ff66ff" shape-rendering="crispEdges"/>
<rect x="420.25" y="840.10" width="26.43" height="20.00" fill="#006600" shape-rendering="crispEdges"/>
<rect x="420.25" y="860.10" width="26.43" height="56.80" fill="#666699" shape-rendering="crispEdges"/>
<rect x="420.25" y="916.90" width="26.43" height="16.30" fill="#6600cc" shape-rendering="crispEdges"/>
<rect x="446.69" y="771.50" width="26.43" height="1.20" fill="#ffcc00" shape-rendering="crispEdges"/>
<rect x="446.69" y="772.70" width="26.43" height="39.00" fill="#66cc66" shape-rendering="crispEdges"/>
<rect x="446.69" y="811.70" width="26.43" height="1.70" fill="#d9d9d9" shape-rendering="crispEdges"/>
<rect x="446.69" y="813.40" width="26.43" height="30.60" fill="#ff66ff" shape-rendering="crispEdges"/>
<rect x="446.69" y="844.00" width="26.43" height="11.00" fill="#006600" shape-rendering="crispEdges"/>
<rect x="446.69" y="855.00" width="26.43" height="52.90" fill="#666699" shape-rendering="crispEdges"/>
<rect x="446.69" y="907.90" width="26.43" height="25.30" fill="#6600cc" shape-rendering="crispEdges"/>
<rect x="473.12" y="803.00" width="26.43" height="1.10" fill="#ffcc00" shape-rendering="crispEdges"/>
<rect x="473.12" y="804.10" width="26.43" height="31.90" fill="#66cc66" shape-rendering="crispEdges"/>
<rect x="473.12" y="836.00" width="26.43" height="4.10" fill="#d9d9d9" shape-rendering="crispEdges"/>
<rect x="473.12" y="840.10" width="26.43" height="26.80" fill="#ff66ff" shape-rendering="crispEdges"/>
<rect x="473.12" y="866.90" width="26.43" height="11.80" fill="#006600" shape-rendering="crispEdges"/>
<rect x="473.12" y="878.70" width="26.43" height="54.50" fill="#666699" shape-rendering="crispEdges"/>
<rect x="499.56" y="788.00" width="26.43" height="0.90" fill="#ffcc00" shape-rendering="crispEdges"/>
<rect x="499.56" y="788.90" width="26.43" height="30.10" fill="#66cc66" shape-rendering="crispEdges"/>
<rect x="499.56" y="819.00" width="26.43" height="9.20" fill="#d9d9d9" shape-rendering="crispEdges"/>
<rect x="499.56" y="828.20" width="26.43" height="36.10" fill="#ff66ff" shape-rendering="crispEdges"/>
<rect x="499.56" y="864.30" width="26.43" height="4.20" fill="#006600" shape-rendering="crispEdges"/>
<rect x="499.56" y="868.50" width="26.43" height="64.70" fill="#666699" shape-rendering="crispEdges"/>
<rect x="525.99" y="743.10" width="26.43" height="18.30" fill="#ffcc00" shape-rendering="crispEdges"/>
<rect x="525.99" y="761.40" width="26.43" height="18.60" fill="#66cc66" shape-rendering="crispEdges"/>
<rect x="525.99" y="780.00" width="26.43" height="6.80" fill="#d9d9d9" shape-rendering="crispEdges"/>
<rect x="525.99" y="786.80" width="26.43" height="40.20" fill="#ff66ff" shape-rendering="crispEdges"/>
<rect x="525.99" y="827.00" width="26.43" height="4.20" fill="#006600" shape-rendering="crispEdges"/>
<rect x="525.99" y="831.20" width="26.43" height="9.90" fill="#666699" shape-rendering="crispEdges"/>
<rect x="525.99" y="841.10" width="26.43" height="92.10" fill="#6600cc" shape-rendering="crispEdges"/>
<rect x="552.43" y="781.70" width="26.43" height="15.30" fill="#ffcc00" shape-rendering="crispEdges"/>
<rect x="552.43" y="797.00" width="26.43" height="12.20" fill="#66cc66" shape-rendering="crispEdges"/>
<rect x="552.43" y="809.20" width="26.43" height="8.10" fill="#d9d9d9" shape-rendering="crispEdges"/>
<rect x="552.43" y="817.30" width="26.43" height="32.30" fill="#ff66ff" shape-rendering="crispEdges"/>
<rect x="552.43" y="849.60" width="26.43" height="4.50" fill="#006600" shape-rendering="crispEdges"/>
<rect x="552.43" y="854.10" width="26.43" height="6.80" fill="#666699" shape-rendering="crispEdges"/>
<rect x="552.43" y="860.90" width="26.43" height="72.30" fill="#6600cc" shape-rendering="crispEdges"/>
<rect x="578.86" y="761.40" width="26.43" height="22.40" fill="#ffcc00" shape-rendering="crispEdges"/>
<rect x="578.86" y="783.80" width="26.43" height="20.30" fill="#66cc66" shape-rendering="crispEdges"/>
<rect x="578.86" y="804.10" width="26.43" height="5.10" fill="#d9d9d9" shape-rendering="crispEdges"/>
<rect x="578.86" y="809.20" width="26.43" height="50.90" fill="#ff66ff" shape-rendering="crispEdges"/>
<rect x="578.86" y="860.10" width="26.43" height="13.50" fill="#006600" shape-rendering="crispEdges"/>
<rect x="578.86" y="873.60" width="26.43" height="59.60" fill="#666699" shape-rendering="crispEdges"/>
<rect x="605.30" y="814.60" width="26.43" height="10.20" fill="#ffcc00" shape-rendering="crispEdges"/>
<rect x="605.30" y="824.80" width="26.43" height="18.30" fill="#66cc66" shape-rendering="crispEdges"/>
<rect x="605.30" y="843.10" width="26.43" height="3.40" fill="#d9d9d9" shape-rendering="crispEdges"/>
<rect x="605.30" y="846.50" width="26.43" height="25.40" fill="#ff66ff" shape-rendering="crispEdges"/>
<rect x="605.30" y="871.90" width="26.43" height="28.00" fill="#006600" shape-rendering="crispEdges"/>
<rect x="605.30" y="899.90" width="26.43" height="33.30" fill="#666699" shape-rendering="crispEdges"/>
<rect x="631.73" y="757.50" width="26.43" height="29.70" fill="#ffcc00" shape-rendering="crispEdges"/>
<rect x="631.73" y="787.20" width="26.43" height="16.60" fill="#66cc66" shape-rendering="crispEdges"/>
<rect x="631.73" y="803.80" width="26.43" height="2.90" fill="#d9d9d9" shape-rendering="crispEdges"/>
<rect x="631.73" y="806.70" width="26.43" height="67.80" fill="#ff66ff" shape-rendering="crispEdges"/>
<rect x="631.73" y="874.50" width="26.43" height="21.50" fill="#006600" shape-rendering="crispEdges"/>
<rect x="631.73" y="896.00" width="26.43" height="37.20" fill="#666699" shape-rendering="crispEdges"/>
<rect x="658.17" y="810.90" width="26.43" height="11.00" fill="#ffcc00" shape-rendering="crispEdges"/>
<rect x="658.17" y="821.90" width="26.43" height="14.90" fill="#66cc66" shape-rendering="crispEdges"/>
<rect x="658.17" y="836.80" width="26.43" height="6.30" fill="#d9d9d9" shape-rendering="crispEdges"/>
<rect x="658.17" y="843.10" width="26.43" height="32.60" fill="#ff66ff" shape-rendering="crispEdges"/>
<rect x="658.17" y="875.70" width="26.43" height="33.90" fill="#006600" shape-rendering="crispEdges"/>
<rect x="658.17" y="909.60" width="26.43" height="23.60" fill="#666699" shape-rendering="crispEdges"/>
<path d="M76.60,934.20 L103.03,934.20 L103.03,934.20 L129.47,934.20 L129.47,890.90 L155.90,890.90 L155.90,899.10 L182.34,899.10 L182.34,934.20 L208.77,934.20 L208.77,934.20 L235.21,934.20 L235.21,934.20 L261.64,934.20 L261.64,934.20 L288.08,934.20 L288.08,889.70 L314.51,889.70 L314.51,934.20 L340.95,934.20 L340.95,918.60 L367.38,918.60 L367.38,934.20 L393.82,934.20 L393.82,934.20 L420.25,934.20 L420.25,889.20 L446.69,889.20 L446.69,890.20 L473.12,890.20 L473.12,895.70 L499.56,895.70 L499.56,853.30 L525.99,853.30 L525.99,890.90 L552.43,890.90 L552.43,872.00 L578.86,872.00 L578.86,878.40 L605.30,878.40 L605.30,862.10 L631.73,862.10 L631.73,877.90 L658.17,877.90 L658.17,799.40 L684.60,799.40" fill="none" stroke="#c42b3c" stroke-width="1.6"/>
<line x1="142.69" y1="874.00" x2="142.69" y2="940.00" stroke="#c42b3c" stroke-width="2.1"/>
<line x1="169.12" y1="881.30" x2="169.12" y2="940.00" stroke="#c42b3c" stroke-width="2.1"/>
<line x1="301.30" y1="876.20" x2="301.30" y2="923.60" stroke="#c42b3c" stroke-width="2.1"/>
<line x1="354.17" y1="901.60" x2="354.17" y2="940.00" stroke="#c42b3c" stroke-width="2.1"/>
<line x1="433.47" y1="871.10" x2="433.47" y2="940.00" stroke="#c42b3c" stroke-width="2.1"/>
<line x1="459.90" y1="874.00" x2="459.90" y2="940.00" stroke="#c42b3c" stroke-width="2.1"/>
<line x1="486.34" y1="878.70" x2="486.34" y2="940.00" stroke="#c42b3c" stroke-width="2.1"/>
<line x1="512.77" y1="845.30" x2="512.77" y2="866.00" stroke="#c42b3c" stroke-width="2.1"/>
<line x1="539.21" y1="874.00" x2="539.21" y2="940.00" stroke="#c42b3c" stroke-width="2.1"/>
<line x1="565.64" y1="858.40" x2="565.64" y2="902.50" stroke="#c42b3c" stroke-width="2.1"/>
<line x1="592.08" y1="865.20" x2="592.08" y2="909.60" stroke="#c42b3c" stroke-width="2.1"/>
<line x1="618.51" y1="852.40" x2="618.51" y2="877.90" stroke="#c42b3c" stroke-width="2.1"/>
<line x1="644.95" y1="866.50" x2="644.95" y2="899.40" stroke="#c42b3c" stroke-width="2.1"/>
<rect x="76.60" y="678.70" width="26.43" height="11.00" fill="url(#hatch)"/>
<rect x="103.03" y="732.00" width="26.43" height="9.40" fill="url(#hatch)"/>
<rect x="129.47" y="728.70" width="26.43" height="11.80" fill="url(#hatch)"/>
<rect x="155.90" y="790.20" width="26.43" height="8.80" fill="url(#hatch)"/>
<rect x="182.34" y="731.20" width="26.43" height="11.00" fill="url(#hatch)"/>
<rect x="208.77" y="775.30" width="26.43" height="11.00" fill="url(#hatch)"/>
<rect x="235.21" y="755.30" width="26.43" height="12.40" fill="url(#hatch)"/>
<rect x="261.64" y="818.50" width="26.43" height="11.90" fill="url(#hatch)"/>
<rect x="288.08" y="704.40" width="26.43" height="8.20" fill="url(#hatch)"/>
<rect x="314.51" y="752.90" width="26.43" height="9.70" fill="url(#hatch)"/>
<rect x="340.95" y="751.60" width="26.43" height="9.30" fill="url(#hatch)"/>
<rect x="367.38" y="781.70" width="26.43" height="9.70" fill="url(#hatch)"/>
<rect x="393.82" y="727.00" width="26.43" height="9.30" fill="url(#hatch)"/>
<rect x="420.25" y="775.30" width="26.43" height="10.20" fill="url(#hatch)"/>
<rect x="446.69" y="766.50" width="26.43" height="10.50" fill="url(#hatch)"/>
<rect x="473.12" y="798.20" width="26.43" height="11.00" fill="url(#hatch)"/>
<rect x="499.56" y="783.40" width="26.43" height="11.40" fill="url(#hatch)"/>
<rect x="525.99" y="738.80" width="26.43" height="9.40" fill="url(#hatch)"/>
<rect x="552.43" y="777.00" width="26.43" height="9.30" fill="url(#hatch)"/>
<rect x="578.86" y="757.50" width="26.43" height="8.50" fill="url(#hatch)"/>
<rect x="605.30" y="810.60" width="26.43" height="8.80" fill="url(#hatch)"/>
<rect x="631.73" y="752.90" width="26.43" height="10.20" fill="url(#hatch)"/>
<rect x="658.17" y="805.80" width="26.43" height="9.80" fill="url(#hatch)"/>
<circle cx="89.82" cy="680.00" r="3.05" fill="#000"/>
<circle cx="116.25" cy="730.00" r="3.05" fill="#000"/>
<circle cx="142.69" cy="728.70" r="3.05" fill="#000"/>
<line x1="169.12" y1="788.00" x2="169.12" y2="805.80" stroke="#000" stroke-width="2.1"/>
<circle cx="169.12" cy="796.50" r="3.05" fill="#000"/>
<circle cx="195.56" cy="732.40" r="3.05" fill="#000"/>
<line x1="221.99" y1="769.40" x2="221.99" y2="779.50" stroke="#000" stroke-width="2.1"/>
<circle cx="221.99" cy="774.40" r="3.05" fill="#000"/>
<circle cx="248.43" cy="757.50" r="3.05" fill="#000"/>
<line x1="274.86" y1="810.00" x2="274.86" y2="847.40" stroke="#000" stroke-width="2.1"/>
<circle cx="274.86" cy="827.50" r="3.05" fill="#000"/>
<circle cx="301.30" cy="701.50" r="3.05" fill="#000"/>
<circle cx="327.73" cy="754.10" r="3.05" fill="#000"/>
<circle cx="354.17" cy="750.40" r="3.05" fill="#000"/>
<line x1="380.60" y1="766.50" x2="380.60" y2="777.00" stroke="#000" stroke-width="2.1"/>
<circle cx="380.60" cy="771.60" r="3.05" fill="#000"/>
<circle cx="407.03" cy="725.80" r="3.05" fill="#000"/>
<line x1="433.47" y1="766.80" x2="433.47" y2="777.30" stroke="#000" stroke-width="2.1"/>
<circle cx="433.47" cy="772.20" r="3.05" fill="#000"/>
<line x1="459.90" y1="760.40" x2="459.90" y2="769.40" stroke="#000" stroke-width="2.1"/>
<circle cx="459.90" cy="764.80" r="3.05" fill="#000"/>
<line x1="486.34" y1="783.80" x2="486.34" y2="800.70" stroke="#000" stroke-width="2.1"/>
<circle cx="486.34" cy="791.90" r="3.05" fill="#000"/>
<line x1="512.77" y1="773.90" x2="512.77" y2="787.20" stroke="#000" stroke-width="2.1"/>
<circle cx="512.77" cy="780.40" r="3.05" fill="#000"/>
<circle cx="539.21" cy="734.10" r="3.05" fill="#000"/>
<line x1="565.64" y1="767.20" x2="565.64" y2="777.80" stroke="#000" stroke-width="2.1"/>
<circle cx="565.64" cy="772.20" r="3.05" fill="#000"/>
<line x1="592.08" y1="761.70" x2="592.08" y2="769.90" stroke="#000" stroke-width="2.1"/>
<circle cx="592.08" cy="766.00" r="3.05" fill="#000"/>
<line x1="618.51" y1="795.30" x2="618.51" y2="817.70" stroke="#000" stroke-width="2.1"/>
<circle cx="618.51" cy="805.80" r="3.05" fill="#000"/>
<circle cx="644.95" cy="755.80" r="3.05" fill="#000"/>
<line x1="671.38" y1="788.00" x2="671.38" y2="805.80" stroke="#000" stroke-width="2.1"/>
<circle cx="671.38" cy="797.00" r="3.05" fill="#000"/>
</g>
<rect x="76.6" y="578.4" width="608.0" height="353.80000000000007" fill="none" stroke="#000" stroke-width="1.2"/>
<line x1="76.6" y1="927.55" x2="80.19999999999999" y2="927.55" stroke="#000" stroke-width="1.1"/>
<line x1="76.6" y1="923.62" x2="80.19999999999999" y2="923.62" stroke="#000" stroke-width="1.1"/>
<line x1="76.6" y1="920.22" x2="80.19999999999999" y2="920.22" stroke="#000" stroke-width="1.1"/>
<line x1="76.6" y1="917.22" x2="80.19999999999999" y2="917.22" stroke="#000" stroke-width="1.1"/>
<line x1="76.6" y1="914.54" x2="82.39999999999999" y2="914.54" stroke="#000" stroke-width="1.1"/>
<line x1="76.6" y1="896.89" x2="80.19999999999999" y2="896.89" stroke="#000" stroke-width="1.1"/>
<line x1="76.6" y1="886.56" x2="80.19999999999999" y2="886.56" stroke="#000" stroke-width="1.1"/>
<line x1="76.6" y1="879.24" x2="80.19999999999999" y2="879.24" stroke="#000" stroke-width="1.1"/>
<line x1="76.6" y1="873.55" x2="80.19999999999999" y2="873.55" stroke="#000" stroke-width="1.1"/>
<line x1="76.6" y1="868.91" x2="80.19999999999999" y2="868.91" stroke="#000" stroke-width="1.1"/>
<line x1="76.6" y1="864.98" x2="80.19999999999999" y2="864.98" stroke="#000" stroke-width="1.1"/>
<line x1="76.6" y1="861.58" x2="80.19999999999999" y2="861.58" stroke="#000" stroke-width="1.1"/>
<line x1="76.6" y1="858.58" x2="80.19999999999999" y2="858.58" stroke="#000" stroke-width="1.1"/>
<line x1="76.6" y1="855.90" x2="82.39999999999999" y2="855.90" stroke="#000" stroke-width="1.1"/>
<line x1="76.6" y1="838.25" x2="80.19999999999999" y2="838.25" stroke="#000" stroke-width="1.1"/>
<line x1="76.6" y1="827.92" x2="80.19999999999999" y2="827.92" stroke="#000" stroke-width="1.1"/>
<line x1="76.6" y1="820.60" x2="80.19999999999999" y2="820.60" stroke="#000" stroke-width="1.1"/>
<line x1="76.6" y1="814.91" x2="80.19999999999999" y2="814.91" stroke="#000" stroke-width="1.1"/>
<line x1="76.6" y1="810.27" x2="80.19999999999999" y2="810.27" stroke="#000" stroke-width="1.1"/>
<line x1="76.6" y1="806.34" x2="80.19999999999999" y2="806.34" stroke="#000" stroke-width="1.1"/>
<line x1="76.6" y1="802.94" x2="80.19999999999999" y2="802.94" stroke="#000" stroke-width="1.1"/>
<line x1="76.6" y1="799.94" x2="80.19999999999999" y2="799.94" stroke="#000" stroke-width="1.1"/>
<line x1="76.6" y1="797.26" x2="82.39999999999999" y2="797.26" stroke="#000" stroke-width="1.1"/>
<line x1="76.6" y1="779.61" x2="80.19999999999999" y2="779.61" stroke="#000" stroke-width="1.1"/>
<line x1="76.6" y1="769.28" x2="80.19999999999999" y2="769.28" stroke="#000" stroke-width="1.1"/>
<line x1="76.6" y1="761.96" x2="80.19999999999999" y2="761.96" stroke="#000" stroke-width="1.1"/>
<line x1="76.6" y1="756.27" x2="80.19999999999999" y2="756.27" stroke="#000" stroke-width="1.1"/>
<line x1="76.6" y1="751.63" x2="80.19999999999999" y2="751.63" stroke="#000" stroke-width="1.1"/>
<line x1="76.6" y1="747.70" x2="80.19999999999999" y2="747.70" stroke="#000" stroke-width="1.1"/>
<line x1="76.6" y1="744.30" x2="80.19999999999999" y2="744.30" stroke="#000" stroke-width="1.1"/>
<line x1="76.6" y1="741.30" x2="80.19999999999999" y2="741.30" stroke="#000" stroke-width="1.1"/>
<line x1="76.6" y1="738.62" x2="82.39999999999999" y2="738.62" stroke="#000" stroke-width="1.1"/>
<line x1="76.6" y1="720.97" x2="80.19999999999999" y2="720.97" stroke="#000" stroke-width="1.1"/>
<line x1="76.6" y1="710.64" x2="80.19999999999999" y2="710.64" stroke="#000" stroke-width="1.1"/>
<line x1="76.6" y1="703.32" x2="80.19999999999999" y2="703.32" stroke="#000" stroke-width="1.1"/>
<line x1="76.6" y1="697.63" x2="80.19999999999999" y2="697.63" stroke="#000" stroke-width="1.1"/>
<line x1="76.6" y1="692.99" x2="80.19999999999999" y2="692.99" stroke="#000" stroke-width="1.1"/>
<line x1="76.6" y1="689.06" x2="80.19999999999999" y2="689.06" stroke="#000" stroke-width="1.1"/>
<line x1="76.6" y1="685.66" x2="80.19999999999999" y2="685.66" stroke="#000" stroke-width="1.1"/>
<line x1="76.6" y1="682.66" x2="80.19999999999999" y2="682.66" stroke="#000" stroke-width="1.1"/>
<line x1="76.6" y1="679.98" x2="82.39999999999999" y2="679.98" stroke="#000" stroke-width="1.1"/>
<line x1="76.6" y1="662.33" x2="80.19999999999999" y2="662.33" stroke="#000" stroke-width="1.1"/>
<line x1="76.6" y1="652.00" x2="80.19999999999999" y2="652.00" stroke="#000" stroke-width="1.1"/>
<line x1="76.6" y1="644.68" x2="80.19999999999999" y2="644.68" stroke="#000" stroke-width="1.1"/>
<line x1="76.6" y1="638.99" x2="80.19999999999999" y2="638.99" stroke="#000" stroke-width="1.1"/>
<line x1="76.6" y1="634.35" x2="80.19999999999999" y2="634.35" stroke="#000" stroke-width="1.1"/>
<line x1="76.6" y1="630.42" x2="80.19999999999999" y2="630.42" stroke="#000" stroke-width="1.1"/>
<line x1="76.6" y1="627.02" x2="80.19999999999999" y2="627.02" stroke="#000" stroke-width="1.1"/>
<line x1="76.6" y1="624.02" x2="80.19999999999999" y2="624.02" stroke="#000" stroke-width="1.1"/>
<line x1="76.6" y1="621.34" x2="82.39999999999999" y2="621.34" stroke="#000" stroke-width="1.1"/>
<line x1="76.6" y1="603.69" x2="80.19999999999999" y2="603.69" stroke="#000" stroke-width="1.1"/>
<line x1="76.6" y1="593.36" x2="80.19999999999999" y2="593.36" stroke="#000" stroke-width="1.1"/>
<line x1="76.6" y1="586.04" x2="80.19999999999999" y2="586.04" stroke="#000" stroke-width="1.1"/>
<line x1="76.6" y1="580.35" x2="80.19999999999999" y2="580.35" stroke="#000" stroke-width="1.1"/>
<line x1="89.82" y1="932.2" x2="89.82" y2="926.7" stroke="#000" stroke-width="1"/>
<line x1="116.25" y1="932.2" x2="116.25" y2="926.7" stroke="#000" stroke-width="1"/>
<line x1="142.69" y1="932.2" x2="142.69" y2="926.7" stroke="#000" stroke-width="1"/>
<line x1="169.12" y1="932.2" x2="169.12" y2="926.7" stroke="#000" stroke-width="1"/>
<line x1="195.56" y1="932.2" x2="195.56" y2="926.7" stroke="#000" stroke-width="1"/>
<line x1="221.99" y1="932.2" x2="221.99" y2="926.7" stroke="#000" stroke-width="1"/>
<line x1="248.43" y1="932.2" x2="248.43" y2="926.7" stroke="#000" stroke-width="1"/>
<line x1="274.86" y1="932.2" x2="274.86" y2="926.7" stroke="#000" stroke-width="1"/>
<line x1="301.30" y1="932.2" x2="301.30" y2="926.7" stroke="#000" stroke-width="1"/>
<line x1="327.73" y1="932.2" x2="327.73" y2="926.7" stroke="#000" stroke-width="1"/>
<line x1="354.17" y1="932.2" x2="354.17" y2="926.7" stroke="#000" stroke-width="1"/>
<line x1="380.60" y1="932.2" x2="380.60" y2="926.7" stroke="#000" stroke-width="1"/>
<line x1="407.03" y1="932.2" x2="407.03" y2="926.7" stroke="#000" stroke-width="1"/>
<line x1="433.47" y1="932.2" x2="433.47" y2="926.7" stroke="#000" stroke-width="1"/>
<line x1="459.90" y1="932.2" x2="459.90" y2="926.7" stroke="#000" stroke-width="1"/>
<line x1="486.34" y1="932.2" x2="486.34" y2="926.7" stroke="#000" stroke-width="1"/>
<line x1="512.77" y1="932.2" x2="512.77" y2="926.7" stroke="#000" stroke-width="1"/>
<line x1="539.21" y1="932.2" x2="539.21" y2="926.7" stroke="#000" stroke-width="1"/>
<line x1="565.64" y1="932.2" x2="565.64" y2="926.7" stroke="#000" stroke-width="1"/>
<line x1="592.08" y1="932.2" x2="592.08" y2="926.7" stroke="#000" stroke-width="1"/>
<line x1="618.51" y1="932.2" x2="618.51" y2="926.7" stroke="#000" stroke-width="1"/>
<line x1="644.95" y1="932.2" x2="644.95" y2="926.7" stroke="#000" stroke-width="1"/>
<line x1="671.38" y1="932.2" x2="671.38" y2="926.7" stroke="#000" stroke-width="1"/>
<text x="51.4" y="922.84" font-size="21.5" text-anchor="end">10</text>
<line x1="51.8" y1="911.04" x2="61.3" y2="911.04" stroke="#000" stroke-width="1.3"/>
<text x="70.1" y="914.54" font-size="14.5" text-anchor="end">1</text>
<text x="61.6" y="864.20" font-size="21.5" text-anchor="end">10</text>
<text x="70.2" y="855.60" font-size="14.5" text-anchor="end">0</text>
<text x="61.6" y="805.56" font-size="21.5" text-anchor="end">10</text>
<text x="70.2" y="796.96" font-size="14.5" text-anchor="end">1</text>
<text x="61.6" y="746.92" font-size="21.5" text-anchor="end">10</text>
<text x="70.2" y="738.32" font-size="14.5" text-anchor="end">2</text>
<text x="61.6" y="688.28" font-size="21.5" text-anchor="end">10</text>
<text x="70.2" y="679.68" font-size="14.5" text-anchor="end">3</text>
<text x="61.6" y="629.64" font-size="21.5" text-anchor="end">10</text>
<text x="70.2" y="621.04" font-size="14.5" text-anchor="end">4</text>
<text x="77.50" y="568.50" font-size="28.3" text-anchor="start" font-weight="bold" >CMS</text>
<text x="506.4" y="568.70" font-size="21" textLength="61" lengthAdjust="spacingAndGlyphs">137 fb</text>
<line x1="568.6" y1="556.30" x2="578.8" y2="556.30" stroke="#000" stroke-width="1.2"/>
<text x="585" y="560.40" font-size="14.5" text-anchor="end">1</text>
<text x="593" y="568.70" font-size="21.5" textLength="85.3" lengthAdjust="spacingAndGlyphs">(13 TeV)</text>
<text transform="translate(16.3,578.3) rotate(-90)" font-size="23" text-anchor="end">Events</text>
<clipPath id="r2"><rect x="76.6" y="953" width="608.0" height="78.40000000000009"/></clipPath>
<g clip-path="url(#r2)">
<line x1="76.6" y1="1005.27" x2="684.6" y2="1005.27" stroke="#b8b8b8" stroke-width="1"/>
<rect x="76.60" y="1000.60" width="26.43" height="10.60" fill="url(#hatch)"/>
<rect x="103.03" y="1000.60" width="26.43" height="10.60" fill="url(#hatch)"/>
<rect x="129.47" y="1000.60" width="26.43" height="10.60" fill="url(#hatch)"/>
<rect x="155.90" y="1000.60" width="26.43" height="10.60" fill="url(#hatch)"/>
<rect x="182.34" y="1000.60" width="26.43" height="10.60" fill="url(#hatch)"/>
<rect x="208.77" y="1000.60" width="26.43" height="10.60" fill="url(#hatch)"/>
<rect x="235.21" y="1000.60" width="26.43" height="10.60" fill="url(#hatch)"/>
<rect x="261.64" y="1000.60" width="26.43" height="10.60" fill="url(#hatch)"/>
<rect x="288.08" y="1000.60" width="26.43" height="10.60" fill="url(#hatch)"/>
<rect x="314.51" y="1000.60" width="26.43" height="10.60" fill="url(#hatch)"/>
<rect x="340.95" y="1000.60" width="26.43" height="10.60" fill="url(#hatch)"/>
<rect x="367.38" y="1000.60" width="26.43" height="10.60" fill="url(#hatch)"/>
<rect x="393.82" y="1000.60" width="26.43" height="10.60" fill="url(#hatch)"/>
<rect x="420.25" y="1000.60" width="26.43" height="10.60" fill="url(#hatch)"/>
<rect x="446.69" y="1000.60" width="26.43" height="10.60" fill="url(#hatch)"/>
<rect x="473.12" y="1000.60" width="26.43" height="10.60" fill="url(#hatch)"/>
<rect x="499.56" y="1000.60" width="26.43" height="10.60" fill="url(#hatch)"/>
<rect x="525.99" y="1000.60" width="26.43" height="10.60" fill="url(#hatch)"/>
<rect x="552.43" y="1000.60" width="26.43" height="10.60" fill="url(#hatch)"/>
<rect x="578.86" y="1000.60" width="26.43" height="10.60" fill="url(#hatch)"/>
<rect x="605.30" y="1000.60" width="26.43" height="10.60" fill="url(#hatch)"/>
<rect x="631.73" y="1000.60" width="26.43" height="10.60" fill="url(#hatch)"/>
<rect x="658.17" y="1000.60" width="26.43" height="10.60" fill="url(#hatch)"/>
<line x1="169.12" y1="998.30" x2="169.12" y2="1015.20" stroke="#000" stroke-width="2.1"/>
<line x1="221.99" y1="991.60" x2="221.99" y2="1005.00" stroke="#000" stroke-width="2.1"/>
<line x1="248.43" y1="998.40" x2="248.43" y2="1007.20" stroke="#000" stroke-width="2.1"/>
<line x1="274.86" y1="987.20" x2="274.86" y2="1021.40" stroke="#000" stroke-width="2.1"/>
<line x1="327.73" y1="997.00" x2="327.73" y2="1005.40" stroke="#000" stroke-width="2.1"/>
<line x1="354.17" y1="996.10" x2="354.17" y2="1003.60" stroke="#000" stroke-width="2.1"/>
<line x1="380.60" y1="976.20" x2="380.60" y2="994.00" stroke="#000" stroke-width="2.1"/>
<line x1="433.47" y1="989.50" x2="433.47" y2="1003.80" stroke="#000" stroke-width="2.1"/>
<line x1="459.90" y1="990.90" x2="459.90" y2="1003.80" stroke="#000" stroke-width="2.1"/>
<line x1="486.34" y1="976.20" x2="486.34" y2="1002.00" stroke="#000" stroke-width="2.1"/>
<line x1="512.77" y1="986.00" x2="512.77" y2="1003.80" stroke="#000" stroke-width="2.1"/>
<line x1="565.64" y1="986.00" x2="565.64" y2="1000.70" stroke="#000" stroke-width="2.1"/>
<line x1="618.51" y1="975.30" x2="618.51" y2="1008.30" stroke="#000" stroke-width="2.1"/>
<line x1="644.95" y1="999.80" x2="644.95" y2="1007.40" stroke="#000" stroke-width="2.1"/>
<line x1="671.38" y1="967.30" x2="671.38" y2="1000.70" stroke="#000" stroke-width="2.1"/>
</g>
<circle cx="89.82" cy="1001.00" r="3.3" fill="#000"/>
<circle cx="116.25" cy="998.30" r="3.3" fill="#000"/>
<circle cx="142.69" cy="999.20" r="3.3" fill="#000"/>
<circle cx="169.12" cy="1008.00" r="3.3" fill="#000"/>
<circle cx="195.56" cy="1001.40" r="3.3" fill="#000"/>
<circle cx="221.99" cy="999.20" r="3.3" fill="#000"/>
<circle cx="248.43" cy="1002.70" r="3.3" fill="#000"/>
<circle cx="274.86" cy="1008.50" r="3.3" fill="#000"/>
<circle cx="301.30" cy="997.80" r="3.3" fill="#000"/>
<circle cx="327.73" cy="1001.40" r="3.3" fill="#000"/>
<circle cx="354.17" cy="999.60" r="3.3" fill="#000"/>
<circle cx="380.60" cy="986.40" r="3.3" fill="#000"/>
<circle cx="407.03" cy="999.30" r="3.3" fill="#000"/>
<circle cx="433.47" cy="997.60" r="3.3" fill="#000"/>
<circle cx="459.90" cy="997.60" r="3.3" fill="#000"/>
<circle cx="486.34" cy="990.90" r="3.3" fill="#000"/>
<circle cx="512.77" cy="996.20" r="3.3" fill="#000"/>
<circle cx="539.21" cy="994.90" r="3.3" fill="#000"/>
<circle cx="565.64" cy="994.00" r="3.3" fill="#000"/>
<circle cx="592.08" cy="1009.60" r="3.3" fill="#000"/>
<circle cx="618.51" cy="994.00" r="3.3" fill="#000"/>
<circle cx="644.95" cy="1003.80" r="3.3" fill="#000"/>
<circle cx="671.38" cy="986.40" r="3.3" fill="#000"/>
<rect x="76.6" y="953" width="608.0" height="78.40000000000009" fill="none" stroke="#000" stroke-width="1.2"/>
<line x1="76.6" y1="1005.27" x2="82.19999999999999" y2="1005.27" stroke="#000" stroke-width="1.1"/>
<line x1="76.6" y1="979.13" x2="82.19999999999999" y2="979.13" stroke="#000" stroke-width="1.1"/>
<line x1="89.82" y1="1031.4" x2="89.82" y2="1025.9" stroke="#000" stroke-width="1"/>
<line x1="116.25" y1="1031.4" x2="116.25" y2="1025.9" stroke="#000" stroke-width="1"/>
<line x1="142.69" y1="1031.4" x2="142.69" y2="1025.9" stroke="#000" stroke-width="1"/>
<line x1="169.12" y1="1031.4" x2="169.12" y2="1025.9" stroke="#000" stroke-width="1"/>
<line x1="195.56" y1="1031.4" x2="195.56" y2="1025.9" stroke="#000" stroke-width="1"/>
<line x1="221.99" y1="1031.4" x2="221.99" y2="1025.9" stroke="#000" stroke-width="1"/>
<line x1="248.43" y1="1031.4" x2="248.43" y2="1025.9" stroke="#000" stroke-width="1"/>
<line x1="274.86" y1="1031.4" x2="274.86" y2="1025.9" stroke="#000" stroke-width="1"/>
<line x1="301.30" y1="1031.4" x2="301.30" y2="1025.9" stroke="#000" stroke-width="1"/>
<line x1="327.73" y1="1031.4" x2="327.73" y2="1025.9" stroke="#000" stroke-width="1"/>
<line x1="354.17" y1="1031.4" x2="354.17" y2="1025.9" stroke="#000" stroke-width="1"/>
<line x1="380.60" y1="1031.4" x2="380.60" y2="1025.9" stroke="#000" stroke-width="1"/>
<line x1="407.03" y1="1031.4" x2="407.03" y2="1025.9" stroke="#000" stroke-width="1"/>
<line x1="433.47" y1="1031.4" x2="433.47" y2="1025.9" stroke="#000" stroke-width="1"/>
<line x1="459.90" y1="1031.4" x2="459.90" y2="1025.9" stroke="#000" stroke-width="1"/>
<line x1="486.34" y1="1031.4" x2="486.34" y2="1025.9" stroke="#000" stroke-width="1"/>
<line x1="512.77" y1="1031.4" x2="512.77" y2="1025.9" stroke="#000" stroke-width="1"/>
<line x1="539.21" y1="1031.4" x2="539.21" y2="1025.9" stroke="#000" stroke-width="1"/>
<line x1="565.64" y1="1031.4" x2="565.64" y2="1025.9" stroke="#000" stroke-width="1"/>
<line x1="592.08" y1="1031.4" x2="592.08" y2="1025.9" stroke="#000" stroke-width="1"/>
<line x1="618.51" y1="1031.4" x2="618.51" y2="1025.9" stroke="#000" stroke-width="1"/>
<line x1="644.95" y1="1031.4" x2="644.95" y2="1025.9" stroke="#000" stroke-width="1"/>
<line x1="671.38" y1="1031.4" x2="671.38" y2="1025.9" stroke="#000" stroke-width="1"/>
<text x="70.5" y="1039.00" font-size="21.5" text-anchor="end">0</text>
<text x="70.5" y="1012.87" font-size="21.5" text-anchor="end">1</text>
<text x="70.5" y="986.73" font-size="21.5" text-anchor="end">2</text>
<text x="70.5" y="960.60" font-size="21.5" text-anchor="end">3</text>
<text transform="translate(47.8,952.8) rotate(-90)" font-size="22.8" text-anchor="end">Data / Pred.</text>
<text transform="translate(94.02,1037.1) rotate(-90)" font-size="12.5" text-anchor="end">1</text>
<text transform="translate(120.45,1037.1) rotate(-90)" font-size="12.5" text-anchor="end">2</text>
<text transform="translate(146.89,1037.1) rotate(-90)" font-size="12.5" text-anchor="end">3</text>
<text transform="translate(173.32,1037.1) rotate(-90)" font-size="12.5" text-anchor="end">4</text>
<text transform="translate(199.76,1037.1) rotate(-90)" font-size="12.5" text-anchor="end">5</text>
<text transform="translate(226.19,1037.1) rotate(-90)" font-size="12.5" text-anchor="end">6</text>
<text transform="translate(252.63,1037.1) rotate(-90)" font-size="12.5" text-anchor="end">7</text>
<text transform="translate(279.06,1037.1) rotate(-90)" font-size="12.5" text-anchor="end">8</text>
<text transform="translate(305.50,1037.1) rotate(-90)" font-size="12.5" text-anchor="end">9</text>
<text transform="translate(331.93,1037.1) rotate(-90)" font-size="12.5" text-anchor="end">10</text>
<text transform="translate(358.37,1037.1) rotate(-90)" font-size="12.5" text-anchor="end">11</text>
<text transform="translate(384.80,1037.1) rotate(-90)" font-size="12.5" text-anchor="end">12</text>
<text transform="translate(411.23,1037.1) rotate(-90)" font-size="12.5" text-anchor="end">13</text>
<text transform="translate(437.67,1037.1) rotate(-90)" font-size="12.5" text-anchor="end">14</text>
<text transform="translate(464.10,1037.1) rotate(-90)" font-size="12.5" text-anchor="end">15</text>
<text transform="translate(490.54,1037.1) rotate(-90)" font-size="12.5" text-anchor="end">16</text>
<text transform="translate(516.97,1037.1) rotate(-90)" font-size="12.5" text-anchor="end">17</text>
<text transform="translate(543.41,1037.1) rotate(-90)" font-size="12.5" text-anchor="end">18</text>
<text transform="translate(569.84,1037.1) rotate(-90)" font-size="12.5" text-anchor="end">19</text>
<text transform="translate(596.28,1037.1) rotate(-90)" font-size="12.5" text-anchor="end">20</text>
<text transform="translate(622.71,1037.1) rotate(-90)" font-size="12.5" text-anchor="end">21</text>
<text transform="translate(649.15,1037.1) rotate(-90)" font-size="12.5" text-anchor="end">22</text>
<text transform="translate(675.58,1037.1) rotate(-90)" font-size="12.5" text-anchor="end">23</text>
<text x="684.6" y="1073.4" font-size="23.1" text-anchor="end">SR</text>
<text x="87.60" y="647.30" font-size="22.2" text-anchor="start" font-weight="normal" >on-Z ML</text>
<line x1="202.60" y1="608.80" x2="202.60" y2="625.80" stroke="#000" stroke-width="2.1"/>
<circle cx="202.60" cy="617.30" r="3" fill="#000"/>
<text x="231.60" y="622.80" font-size="15.5">Data</text>
<rect x="186.60" y="628.00" width="32" height="11" fill="#ffcc00"/>
<text x="231.60" y="639.00" font-size="15.5">WZ</text>
<rect x="186.60" y="644.80" width="32" height="11" fill="#66cc66"/>
<text x="231.60" y="655.80" font-size="15.5">tt&#772;Z</text>
<rect x="283.00" y="611.80" width="32" height="11" fill="#d9d9d9"/>
<text x="328.00" y="622.80" font-size="15.5">Nonprompt lep.</text>
<rect x="283.00" y="628.00" width="32" height="11" fill="#ff66ff"/>
<text x="328.00" y="639.00" font-size="15.5">Rare</text>
<rect x="283.00" y="644.80" width="32" height="11" fill="#006600"/>
<text x="328.00" y="655.80" font-size="15.5">tt&#772;W</text>
<rect x="452.00" y="611.80" width="32" height="11" fill="#666699"/>
<text x="497.00" y="622.80" font-size="15.5">tt&#772;H</text>
<rect x="452.00" y="628.00" width="32" height="11" fill="#6600cc"/>
<text x="497.00" y="639.00" font-size="15.5">X&#947;</text>
<rect x="453.20" y="647.20" width="30.6" height="10.4" fill="none" stroke="#c42b3c" stroke-width="1.5"/>
<text x="497.00" y="657.20" font-size="16.2" textLength="115.4" lengthAdjust="spacingAndGlyphs">T1tttt (1600,600)</text>
<text x="618.50" y="658.40" font-size="18">&#215;</text>
<text x="628.80" y="657.50" font-size="16.5" textLength="20.5" lengthAdjust="spacingAndGlyphs">10</text>
<clipPath id="c3"><rect x="76.6" y="1126.7" width="608.0" height="353.5"/></clipPath>
<g clip-path="url(#c3)">
<rect x="76.60" y="1245.90" width="28.95" height="14.10" fill="#ffcc00" shape-rendering="crispEdges"/>
<rect x="76.60" y="1260.00" width="28.95" height="2.00" fill="#66cc66" shape-rendering="crispEdges"/>
<rect x="76.60" y="1262.00" width="28.95" height="22.10" fill="#d9d9d9" shape-rendering="crispEdges"/>
<rect x="76.60" y="1284.10" width="28.95" height="13.70" fill="#ff66ff" shape-rendering="crispEdges"/>
<rect x="76.60" y="1297.80" width="28.95" height="8.30" fill="#006600" shape-rendering="crispEdges"/>
<rect x="76.60" y="1306.10" width="28.95" height="8.50" fill="#666699" shape-rendering="crispEdges"/>
<rect x="76.60" y="1314.60" width="28.95" height="166.60" fill="#6600cc" shape-rendering="crispEdges"/>
<rect x="105.55" y="1369.00" width="28.95" height="17.00" fill="#ffcc00" shape-rendering="crispEdges"/>
<rect x="105.55" y="1386.00" width="28.95" height="2.90" fill="#66cc66" shape-rendering="crispEdges"/>
<rect x="105.55" y="1388.90" width="28.95" height="17.40" fill="#d9d9d9" shape-rendering="crispEdges"/>
<rect x="105.55" y="1406.30" width="28.95" height="26.70" fill="#ff66ff" shape-rendering="crispEdges"/>
<rect x="105.55" y="1433.00" width="28.95" height="22.80" fill="#006600" shape-rendering="crispEdges"/>
<rect x="105.55" y="1455.80" width="28.95" height="25.40" fill="#666699" shape-rendering="crispEdges"/>
<rect x="134.50" y="1297.00" width="28.95" height="14.20" fill="#ffcc00" shape-rendering="crispEdges"/>
<rect x="134.50" y="1311.20" width="28.95" height="1.90" fill="#66cc66" shape-rendering="crispEdges"/>
<rect x="134.50" y="1313.10" width="28.95" height="23.70" fill="#d9d9d9" shape-rendering="crispEdges"/>
<rect x="134.50" y="1336.80" width="28.95" height="19.40" fill="#ff66ff" shape-rendering="crispEdges"/>
<rect x="134.50" y="1356.20" width="28.95" height="23.00" fill="#006600" shape-rendering="crispEdges"/>
<rect x="134.50" y="1379.20" width="28.95" height="55.50" fill="#666699" shape-rendering="crispEdges"/>
<rect x="134.50" y="1434.70" width="28.95" height="46.50" fill="#6600cc" shape-rendering="crispEdges"/>
<rect x="163.46" y="1396.50" width="28.95" height="7.60" fill="#ffcc00" shape-rendering="crispEdges"/>
<rect x="163.46" y="1404.10" width="28.95" height="5.90" fill="#66cc66" shape-rendering="crispEdges"/>
<rect x="163.46" y="1410.00" width="28.95" height="6.80" fill="#d9d9d9" shape-rendering="crispEdges"/>
<rect x="163.46" y="1416.80" width="28.95" height="16.20" fill="#ff66ff" shape-rendering="crispEdges"/>
<rect x="163.46" y="1433.00" width="28.95" height="31.70" fill="#006600" shape-rendering="crispEdges"/>
<rect x="163.46" y="1464.70" width="28.95" height="16.50" fill="#666699" shape-rendering="crispEdges"/>
<rect x="192.41" y="1309.80" width="28.95" height="20.20" fill="#ffcc00" shape-rendering="crispEdges"/>
<rect x="192.41" y="1330.00" width="28.95" height="4.00" fill="#66cc66" shape-rendering="crispEdges"/>
<rect x="192.41" y="1334.00" width="28.95" height="19.30" fill="#d9d9d9" shape-rendering="crispEdges"/>
<rect x="192.41" y="1353.30" width="28.95" height="12.20" fill="#ff66ff" shape-rendering="crispEdges"/>
<rect x="192.41" y="1365.50" width="28.95" height="12.70" fill="#006600" shape-rendering="crispEdges"/>
<rect x="192.41" y="1378.20" width="28.95" height="21.30" fill="#666699" shape-rendering="crispEdges"/>
<rect x="192.41" y="1399.50" width="28.95" height="81.70" fill="#6600cc" shape-rendering="crispEdges"/>
<rect x="221.36" y="1333.50" width="28.95" height="18.40" fill="#ffcc00" shape-rendering="crispEdges"/>
<rect x="221.36" y="1351.90" width="28.95" height="3.50" fill="#66cc66" shape-rendering="crispEdges"/>
<rect x="221.36" y="1355.40" width="28.95" height="14.50" fill="#d9d9d9" shape-rendering="crispEdges"/>
<rect x="221.36" y="1369.90" width="28.95" height="14.70" fill="#ff66ff" shape-rendering="crispEdges"/>
<rect x="221.36" y="1384.60" width="28.95" height="24.20" fill="#006600" shape-rendering="crispEdges"/>
<rect x="221.36" y="1408.80" width="28.95" height="72.40" fill="#666699" shape-rendering="crispEdges"/>
<rect x="250.31" y="1246.80" width="28.95" height="0.90" fill="#ffcc00" shape-rendering="crispEdges"/>
<rect x="250.31" y="1247.70" width="28.95" height="4.00" fill="#66cc66" shape-rendering="crispEdges"/>
<rect x="250.31" y="1251.70" width="28.95" height="27.50" fill="#d9d9d9" shape-rendering="crispEdges"/>
<rect x="250.31" y="1279.20" width="28.95" height="5.60" fill="#ff66ff" shape-rendering="crispEdges"/>
<rect x="250.31" y="1284.80" width="28.95" height="18.00" fill="#006600" shape-rendering="crispEdges"/>
<rect x="250.31" y="1302.80" width="28.95" height="39.80" fill="#666699" shape-rendering="crispEdges"/>
<rect x="250.31" y="1342.60" width="28.95" height="138.60" fill="#6600cc" shape-rendering="crispEdges"/>
<rect x="279.27" y="1295.30" width="28.95" height="0.90" fill="#ffcc00" shape-rendering="crispEdges"/>
<rect x="279.27" y="1296.20" width="28.95" height="4.00" fill="#66cc66" shape-rendering="crispEdges"/>
<rect x="279.27" y="1300.20" width="28.95" height="19.30" fill="#d9d9d9" shape-rendering="crispEdges"/>
<rect x="279.27" y="1319.50" width="28.95" height="4.70" fill="#ff66ff" shape-rendering="crispEdges"/>
<rect x="279.27" y="1324.20" width="28.95" height="24.70" fill="#006600" shape-rendering="crispEdges"/>
<rect x="279.27" y="1348.90" width="28.95" height="51.10" fill="#666699" shape-rendering="crispEdges"/>
<rect x="279.27" y="1400.00" width="28.95" height="81.20" fill="#6600cc" shape-rendering="crispEdges"/>
<rect x="308.22" y="1311.10" width="28.95" height="1.00" fill="#ffcc00" shape-rendering="crispEdges"/>
<rect x="308.22" y="1312.10" width="28.95" height="8.60" fill="#66cc66" shape-rendering="crispEdges"/>
<rect x="308.22" y="1320.70" width="28.95" height="11.40" fill="#d9d9d9" shape-rendering="crispEdges"/>
<rect x="308.22" y="1332.10" width="28.95" height="6.30" fill="#ff66ff" shape-rendering="crispEdges"/>
<rect x="308.22" y="1338.40" width="28.95" height="17.00" fill="#006600" shape-rendering="crispEdges"/>
<rect x="308.22" y="1355.40" width="28.95" height="45.50" fill="#666699" shape-rendering="crispEdges"/>
<rect x="308.22" y="1400.90" width="28.95" height="80.30" fill="#6600cc" shape-rendering="crispEdges"/>
<rect x="337.17" y="1330.00" width="28.95" height="0.90" fill="#ffcc00" shape-rendering="crispEdges"/>
<rect x="337.17" y="1330.90" width="28.95" height="4.90" fill="#66cc66" shape-rendering="crispEdges"/>
<rect x="337.17" y="1335.80" width="28.95" height="12.20" fill="#d9d9d9" shape-rendering="crispEdges"/>
<rect x="337.17" y="1348.00" width="28.95" height="5.30" fill="#ff66ff" shape-rendering="crispEdges"/>
<rect x="337.17" y="1353.30" width="28.95" height="23.50" fill="#006600" shape-rendering="crispEdges"/>
<rect x="337.17" y="1376.80" width="28.95" height="55.70" fill="#666699" shape-rendering="crispEdges"/>
<rect x="337.17" y="1432.50" width="28.95" height="48.70" fill="#6600cc" shape-rendering="crispEdges"/>
<rect x="366.12" y="1271.30" width="28.95" height="7.00" fill="#66cc66" shape-rendering="crispEdges"/>
<rect x="366.12" y="1278.30" width="28.95" height="9.70" fill="#d9d9d9" shape-rendering="crispEdges"/>
<rect x="366.12" y="1288.00" width="28.95" height="2.90" fill="#ff66ff" shape-rendering="crispEdges"/>
<rect x="366.12" y="1290.90" width="28.95" height="18.90" fill="#006600" shape-rendering="crispEdges"/>
<rect x="366.12" y="1309.80" width="28.95" height="35.10" fill="#666699" shape-rendering="crispEdges"/>
<rect x="366.12" y="1344.90" width="28.95" height="136.30" fill="#6600cc" shape-rendering="crispEdges"/>
<rect x="395.08" y="1320.00" width="28.95" height="6.00" fill="#66cc66" shape-rendering="crispEdges"/>
<rect x="395.08" y="1326.00" width="28.95" height="7.10" fill="#d9d9d9" shape-rendering="crispEdges"/>
<rect x="395.08" y="1333.10" width="28.95" height="3.40" fill="#ff66ff" shape-rendering="crispEdges"/>
<rect x="395.08" y="1336.50" width="28.95" height="24.10" fill="#006600" shape-rendering="crispEdges"/>
<rect x="395.08" y="1360.60" width="28.95" height="48.20" fill="#666699" shape-rendering="crispEdges"/>
<rect x="395.08" y="1408.80" width="28.95" height="72.40" fill="#6600cc" shape-rendering="crispEdges"/>
<rect x="424.03" y="1319.00" width="28.95" height="8.00" fill="#66cc66" shape-rendering="crispEdges"/>
<rect x="424.03" y="1327.00" width="28.95" height="9.50" fill="#d9d9d9" shape-rendering="crispEdges"/>
<rect x="424.03" y="1336.50" width="28.95" height="5.70" fill="#ff66ff" shape-rendering="crispEdges"/>
<rect x="424.03" y="1342.20" width="28.95" height="17.60" fill="#006600" shape-rendering="crispEdges"/>
<rect x="424.03" y="1359.80" width="28.95" height="53.40" fill="#666699" shape-rendering="crispEdges"/>
<rect x="424.03" y="1413.20" width="28.95" height="68.00" fill="#6600cc" shape-rendering="crispEdges"/>
<rect x="452.98" y="1350.10" width="28.95" height="7.90" fill="#66cc66" shape-rendering="crispEdges"/>
<rect x="452.98" y="1358.00" width="28.95" height="2.60" fill="#d9d9d9" shape-rendering="crispEdges"/>
<rect x="452.98" y="1360.60" width="28.95" height="6.20" fill="#ff66ff" shape-rendering="crispEdges"/>
<rect x="452.98" y="1366.80" width="28.95" height="20.10" fill="#006600" shape-rendering="crispEdges"/>
<rect x="452.98" y="1386.90" width="28.95" height="61.00" fill="#666699" shape-rendering="crispEdges"/>
<rect x="452.98" y="1447.90" width="28.95" height="33.30" fill="#6600cc" shape-rendering="crispEdges"/>
<rect x="481.93" y="1334.70" width="28.95" height="7.00" fill="#66cc66" shape-rendering="crispEdges"/>
<rect x="481.93" y="1341.70" width="28.95" height="5.80" fill="#d9d9d9" shape-rendering="crispEdges"/>
<rect x="481.93" y="1347.50" width="28.95" height="17.50" fill="#ff66ff" shape-rendering="crispEdges"/>
<rect x="481.93" y="1365.00" width="28.95" height="9.70" fill="#006600" shape-rendering="crispEdges"/>
<rect x="481.93" y="1374.70" width="28.95" height="58.60" fill="#666699" shape-rendering="crispEdges"/>
<rect x="481.93" y="1433.30" width="28.95" height="47.90" fill="#6600cc" shape-rendering="crispEdges"/>
<rect x="510.89" y="1303.70" width="28.95" height="5.30" fill="#ffcc00" shape-rendering="crispEdges"/>
<rect x="510.89" y="1309.00" width="28.95" height="6.10" fill="#66cc66" shape-rendering="crispEdges"/>
<rect x="510.89" y="1315.10" width="28.95" height="9.60" fill="#d9d9d9" shape-rendering="crispEdges"/>
<rect x="510.89" y="1324.70" width="28.95" height="8.30" fill="#ff66ff" shape-rendering="crispEdges"/>
<rect x="510.89" y="1333.00" width="28.95" height="17.50" fill="#006600" shape-rendering="crispEdges"/>
<rect x="510.89" y="1350.50" width="28.95" height="28.50" fill="#666699" shape-rendering="crispEdges"/>
<rect x="510.89" y="1379.00" width="28.95" height="102.20" fill="#6600cc" shape-rendering="crispEdges"/>
<rect x="539.84" y="1408.20" width="28.95" height="5.40" fill="#ffcc00" shape-rendering="crispEdges"/>
<rect x="539.84" y="1413.60" width="28.95" height="12.10" fill="#66cc66" shape-rendering="crispEdges"/>
<rect x="539.84" y="1425.70" width="28.95" height="1.30" fill="#d9d9d9" shape-rendering="crispEdges"/>
<rect x="539.84" y="1427.00" width="28.95" height="15.50" fill="#ff66ff" shape-rendering="crispEdges"/>
<rect x="539.84" y="1442.50" width="28.95" height="31.40" fill="#006600" shape-rendering="crispEdges"/>
<rect x="539.84" y="1473.90" width="28.95" height="7.30" fill="#666699" shape-rendering="crispEdges"/>
<rect x="568.79" y="1316.20" width="28.95" height="7.70" fill="#ffcc00" shape-rendering="crispEdges"/>
<rect x="568.79" y="1323.90" width="28.95" height="3.90" fill="#66cc66" shape-rendering="crispEdges"/>
<rect x="568.79" y="1327.80" width="28.95" height="6.40" fill="#d9d9d9" shape-rendering="crispEdges"/>
<rect x="568.79" y="1334.20" width="28.95" height="11.60" fill="#ff66ff" shape-rendering="crispEdges"/>
<rect x="568.79" y="1345.80" width="28.95" height="24.50" fill="#006600" shape-rendering="crispEdges"/>
<rect x="568.79" y="1370.30" width="28.95" height="78.40" fill="#666699" shape-rendering="crispEdges"/>
<rect x="568.79" y="1448.70" width="28.95" height="32.50" fill="#6600cc" shape-rendering="crispEdges"/>
<rect x="597.74" y="1399.40" width="28.95" height="3.30" fill="#ffcc00" shape-rendering="crispEdges"/>
<rect x="597.74" y="1402.70" width="28.95" height="7.70" fill="#66cc66" shape-rendering="crispEdges"/>
<rect x="597.74" y="1410.40" width="28.95" height="1.00" fill="#d9d9d9" shape-rendering="crispEdges"/>
<rect x="597.74" y="1411.40" width="28.95" height="16.50" fill="#ff66ff" shape-rendering="crispEdges"/>
<rect x="597.74" y="1427.90" width="28.95" height="42.70" fill="#006600" shape-rendering="crispEdges"/>
<rect x="597.74" y="1470.60" width="28.95" height="10.60" fill="#666699" shape-rendering="crispEdges"/>
<rect x="626.70" y="1316.60" width="28.95" height="7.30" fill="#ffcc00" shape-rendering="crispEdges"/>
<rect x="626.70" y="1323.90" width="28.95" height="3.90" fill="#66cc66" shape-rendering="crispEdges"/>
<rect x="626.70" y="1327.80" width="28.95" height="10.30" fill="#d9d9d9" shape-rendering="crispEdges"/>
<rect x="626.70" y="1338.10" width="28.95" height="13.10" fill="#ff66ff" shape-rendering="crispEdges"/>
<rect x="626.70" y="1351.20" width="28.95" height="30.70" fill="#006600" shape-rendering="crispEdges"/>
<rect x="626.70" y="1381.90" width="28.95" height="74.40" fill="#666699" shape-rendering="crispEdges"/>
<rect x="626.70" y="1456.30" width="28.95" height="24.90" fill="#6600cc" shape-rendering="crispEdges"/>
<rect x="655.65" y="1391.70" width="28.95" height="3.30" fill="#ffcc00" shape-rendering="crispEdges"/>
<rect x="655.65" y="1395.00" width="28.95" height="6.60" fill="#66cc66" shape-rendering="crispEdges"/>
<rect x="655.65" y="1401.60" width="28.95" height="4.40" fill="#d9d9d9" shape-rendering="crispEdges"/>
<rect x="655.65" y="1406.00" width="28.95" height="19.70" fill="#ff66ff" shape-rendering="crispEdges"/>
<rect x="655.65" y="1425.70" width="28.95" height="44.40" fill="#006600" shape-rendering="crispEdges"/>
<rect x="655.65" y="1470.10" width="28.95" height="11.10" fill="#666699" shape-rendering="crispEdges"/>
<path d="M76.60,1482.20 L105.55,1482.20 L105.55,1482.20 L134.50,1482.20 L134.50,1482.20 L163.46,1482.20 L163.46,1482.20 L192.41,1482.20 L192.41,1482.20 L221.36,1482.20 L221.36,1403.60 L250.31,1403.60 L250.31,1417.00 L279.27,1417.00 L279.27,1406.20 L308.22,1406.20 L308.22,1404.40 L337.17,1404.40 L337.17,1381.70 L366.12,1381.70 L366.12,1424.60 L395.08,1424.60 L395.08,1390.00 L424.03,1390.00 L424.03,1397.40 L452.98,1397.40 L452.98,1368.20 L481.93,1368.20 L481.93,1347.90 L510.89,1347.90 L510.89,1352.30 L539.84,1352.30 L539.84,1407.10 L568.79,1407.10 L568.79,1324.30 L597.74,1324.30 L597.74,1344.00 L626.70,1344.00 L626.70,1298.00 L655.65,1298.00 L655.65,1288.20 L684.60,1288.20" fill="none" stroke="#c42b3c" stroke-width="1.6"/>
<line x1="235.84" y1="1390.20" x2="235.84" y2="1429.50" stroke="#c42b3c" stroke-width="2.1"/>
<line x1="264.79" y1="1402.30" x2="264.79" y2="1451.40" stroke="#c42b3c" stroke-width="2.1"/>
<line x1="293.74" y1="1392.50" x2="293.74" y2="1434.60" stroke="#c42b3c" stroke-width="2.1"/>
<line x1="322.70" y1="1392.00" x2="322.70" y2="1429.50" stroke="#c42b3c" stroke-width="2.1"/>
<line x1="351.65" y1="1373.80" x2="351.65" y2="1393.90" stroke="#c42b3c" stroke-width="2.1"/>
<line x1="380.60" y1="1410.00" x2="380.60" y2="1459.60" stroke="#c42b3c" stroke-width="2.1"/>
<line x1="409.55" y1="1381.70" x2="409.55" y2="1402.70" stroke="#c42b3c" stroke-width="2.1"/>
<line x1="438.50" y1="1386.90" x2="438.50" y2="1415.80" stroke="#c42b3c" stroke-width="2.1"/>
<line x1="467.46" y1="1362.00" x2="467.46" y2="1376.00" stroke="#c42b3c" stroke-width="2.1"/>
<line x1="496.41" y1="1344.00" x2="496.41" y2="1352.20" stroke="#c42b3c" stroke-width="2.1"/>
<line x1="525.36" y1="1348.40" x2="525.36" y2="1358.00" stroke="#c42b3c" stroke-width="2.1"/>
<line x1="554.31" y1="1400.00" x2="554.31" y2="1423.50" stroke="#c42b3c" stroke-width="2.1"/>
<line x1="583.27" y1="1321.00" x2="583.27" y2="1327.00" stroke="#c42b3c" stroke-width="2.1"/>
<line x1="612.22" y1="1339.80" x2="612.22" y2="1349.50" stroke="#c42b3c" stroke-width="2.1"/>
<line x1="641.17" y1="1296.00" x2="641.17" y2="1300.00" stroke="#c42b3c" stroke-width="2.1"/>
<line x1="670.12" y1="1287.00" x2="670.12" y2="1290.00" stroke="#c42b3c" stroke-width="2.1"/>
<rect x="76.60" y="1241.90" width="28.95" height="8.80" fill="url(#hatch)"/>
<rect x="105.55" y="1355.00" width="28.95" height="42.40" fill="url(#hatch)"/>
<rect x="134.50" y="1293.10" width="28.95" height="9.30" fill="url(#hatch)"/>
<rect x="163.46" y="1389.40" width="28.95" height="14.70" fill="url(#hatch)"/>
<rect x="192.41" y="1306.00" width="28.95" height="10.00" fill="url(#hatch)"/>
<rect x="221.36" y="1329.10" width="28.95" height="9.60" fill="url(#hatch)"/>
<rect x="250.31" y="1242.00" width="28.95" height="10.00" fill="url(#hatch)"/>
<rect x="279.27" y="1290.90" width="28.95" height="9.30" fill="url(#hatch)"/>
<rect x="308.22" y="1307.20" width="28.95" height="9.60" fill="url(#hatch)"/>
<rect x="337.17" y="1326.50" width="28.95" height="9.30" fill="url(#hatch)"/>
<rect x="366.12" y="1267.50" width="28.95" height="9.90" fill="url(#hatch)"/>
<rect x="395.08" y="1316.30" width="28.95" height="9.30" fill="url(#hatch)"/>
<rect x="424.03" y="1315.10" width="28.95" height="9.60" fill="url(#hatch)"/>
<rect x="452.98" y="1345.80" width="28.95" height="10.50" fill="url(#hatch)"/>
<rect x="481.93" y="1330.50" width="28.95" height="10.50" fill="url(#hatch)"/>
<rect x="510.89" y="1300.20" width="28.95" height="8.80" fill="url(#hatch)"/>
<rect x="539.84" y="1392.80" width="28.95" height="36.20" fill="url(#hatch)"/>
<rect x="568.79" y="1311.80" width="28.95" height="11.00" fill="url(#hatch)"/>
<rect x="597.74" y="1391.70" width="28.95" height="18.70" fill="url(#hatch)"/>
<rect x="626.70" y="1311.80" width="28.95" height="12.10" fill="url(#hatch)"/>
<rect x="655.65" y="1384.70" width="28.95" height="13.60" fill="url(#hatch)"/>
<circle cx="91.08" cy="1238.80" r="3.05" fill="#000"/>
<line x1="120.03" y1="1354.10" x2="120.03" y2="1406.30" stroke="#000" stroke-width="2.1"/>
<circle cx="120.03" cy="1377.30" r="3.05" fill="#000"/>
<line x1="148.98" y1="1293.90" x2="148.98" y2="1302.40" stroke="#000" stroke-width="2.1"/>
<circle cx="148.98" cy="1297.80" r="3.05" fill="#000"/>
<line x1="177.93" y1="1354.10" x2="177.93" y2="1406.30" stroke="#000" stroke-width="2.1"/>
<circle cx="177.93" cy="1377.30" r="3.05" fill="#000"/>
<line x1="206.89" y1="1297.00" x2="206.89" y2="1308.00" stroke="#000" stroke-width="2.1"/>
<circle cx="206.89" cy="1302.30" r="3.05" fill="#000"/>
<line x1="235.84" y1="1327.00" x2="235.84" y2="1350.10" stroke="#000" stroke-width="2.1"/>
<circle cx="235.84" cy="1338.70" r="3.05" fill="#000"/>
<circle cx="264.79" cy="1240.10" r="3.05" fill="#000"/>
<circle cx="293.74" cy="1284.40" r="3.05" fill="#000"/>
<line x1="322.70" y1="1305.50" x2="322.70" y2="1318.60" stroke="#000" stroke-width="2.1"/>
<circle cx="322.70" cy="1311.60" r="3.05" fill="#000"/>
<line x1="351.65" y1="1309.30" x2="351.65" y2="1323.50" stroke="#000" stroke-width="2.1"/>
<circle cx="351.65" cy="1316.00" r="3.05" fill="#000"/>
<circle cx="380.60" cy="1265.20" r="3.05" fill="#000"/>
<line x1="409.55" y1="1306.30" x2="409.55" y2="1320.00" stroke="#000" stroke-width="2.1"/>
<circle cx="409.55" cy="1313.00" r="3.05" fill="#000"/>
<line x1="438.50" y1="1302.80" x2="438.50" y2="1315.40" stroke="#000" stroke-width="2.1"/>
<circle cx="438.50" cy="1309.00" r="3.05" fill="#000"/>
<line x1="467.46" y1="1330.00" x2="467.46" y2="1355.00" stroke="#000" stroke-width="2.1"/>
<circle cx="467.46" cy="1342.20" r="3.05" fill="#000"/>
<line x1="496.41" y1="1318.30" x2="496.41" y2="1336.10" stroke="#000" stroke-width="2.1"/>
<circle cx="496.41" cy="1327.00" r="3.05" fill="#000"/>
<line x1="525.36" y1="1284.60" x2="525.36" y2="1294.70" stroke="#000" stroke-width="2.1"/>
<circle cx="525.36" cy="1289.70" r="3.05" fill="#000"/>
<line x1="554.31" y1="1353.40" x2="554.31" y2="1423.50" stroke="#000" stroke-width="2.1"/>
<circle cx="554.31" cy="1377.50" r="3.05" fill="#000"/>
<line x1="583.27" y1="1300.90" x2="583.27" y2="1312.90" stroke="#000" stroke-width="2.1"/>
<circle cx="583.27" cy="1306.80" r="3.05" fill="#000"/>
<line x1="612.22" y1="1379.70" x2="612.22" y2="1490.00" stroke="#000" stroke-width="2.1"/>
<line x1="641.17" y1="1295.40" x2="641.17" y2="1306.40" stroke="#000" stroke-width="2.1"/>
<circle cx="641.17" cy="1300.90" r="3.05" fill="#000"/>
<line x1="670.12" y1="1353.40" x2="670.12" y2="1406.00" stroke="#000" stroke-width="2.1"/>
<circle cx="670.12" cy="1377.50" r="3.05" fill="#000"/>
</g>
<rect x="76.6" y="1126.7" width="608.0" height="353.5" fill="none" stroke="#000" stroke-width="1.2"/>
<line x1="76.6" y1="1475.04" x2="80.19999999999999" y2="1475.04" stroke="#000" stroke-width="1.1"/>
<line x1="76.6" y1="1470.74" x2="80.19999999999999" y2="1470.74" stroke="#000" stroke-width="1.1"/>
<line x1="76.6" y1="1467.02" x2="80.19999999999999" y2="1467.02" stroke="#000" stroke-width="1.1"/>
<line x1="76.6" y1="1463.74" x2="80.19999999999999" y2="1463.74" stroke="#000" stroke-width="1.1"/>
<line x1="76.6" y1="1460.80" x2="82.39999999999999" y2="1460.80" stroke="#000" stroke-width="1.1"/>
<line x1="76.6" y1="1441.47" x2="80.19999999999999" y2="1441.47" stroke="#000" stroke-width="1.1"/>
<line x1="76.6" y1="1430.17" x2="80.19999999999999" y2="1430.17" stroke="#000" stroke-width="1.1"/>
<line x1="76.6" y1="1422.15" x2="80.19999999999999" y2="1422.15" stroke="#000" stroke-width="1.1"/>
<line x1="76.6" y1="1415.93" x2="80.19999999999999" y2="1415.93" stroke="#000" stroke-width="1.1"/>
<line x1="76.6" y1="1410.84" x2="80.19999999999999" y2="1410.84" stroke="#000" stroke-width="1.1"/>
<line x1="76.6" y1="1406.54" x2="80.19999999999999" y2="1406.54" stroke="#000" stroke-width="1.1"/>
<line x1="76.6" y1="1402.82" x2="80.19999999999999" y2="1402.82" stroke="#000" stroke-width="1.1"/>
<line x1="76.6" y1="1399.54" x2="80.19999999999999" y2="1399.54" stroke="#000" stroke-width="1.1"/>
<line x1="76.6" y1="1396.60" x2="82.39999999999999" y2="1396.60" stroke="#000" stroke-width="1.1"/>
<line x1="76.6" y1="1377.27" x2="80.19999999999999" y2="1377.27" stroke="#000" stroke-width="1.1"/>
<line x1="76.6" y1="1365.97" x2="80.19999999999999" y2="1365.97" stroke="#000" stroke-width="1.1"/>
<line x1="76.6" y1="1357.95" x2="80.19999999999999" y2="1357.95" stroke="#000" stroke-width="1.1"/>
<line x1="76.6" y1="1351.73" x2="80.19999999999999" y2="1351.73" stroke="#000" stroke-width="1.1"/>
<line x1="76.6" y1="1346.64" x2="80.19999999999999" y2="1346.64" stroke="#000" stroke-width="1.1"/>
<line x1="76.6" y1="1342.34" x2="80.19999999999999" y2="1342.34" stroke="#000" stroke-width="1.1"/>
<line x1="76.6" y1="1338.62" x2="80.19999999999999" y2="1338.62" stroke="#000" stroke-width="1.1"/>
<line x1="76.6" y1="1335.34" x2="80.19999999999999" y2="1335.34" stroke="#000" stroke-width="1.1"/>
<line x1="76.6" y1="1332.40" x2="82.39999999999999" y2="1332.40" stroke="#000" stroke-width="1.1"/>
<line x1="76.6" y1="1313.07" x2="80.19999999999999" y2="1313.07" stroke="#000" stroke-width="1.1"/>
<line x1="76.6" y1="1301.77" x2="80.19999999999999" y2="1301.77" stroke="#000" stroke-width="1.1"/>
<line x1="76.6" y1="1293.75" x2="80.19999999999999" y2="1293.75" stroke="#000" stroke-width="1.1"/>
<line x1="76.6" y1="1287.53" x2="80.19999999999999" y2="1287.53" stroke="#000" stroke-width="1.1"/>
<line x1="76.6" y1="1282.44" x2="80.19999999999999" y2="1282.44" stroke="#000" stroke-width="1.1"/>
<line x1="76.6" y1="1278.14" x2="80.19999999999999" y2="1278.14" stroke="#000" stroke-width="1.1"/>
<line x1="76.6" y1="1274.42" x2="80.19999999999999" y2="1274.42" stroke="#000" stroke-width="1.1"/>
<line x1="76.6" y1="1271.14" x2="80.19999999999999" y2="1271.14" stroke="#000" stroke-width="1.1"/>
<line x1="76.6" y1="1268.20" x2="82.39999999999999" y2="1268.20" stroke="#000" stroke-width="1.1"/>
<line x1="76.6" y1="1248.87" x2="80.19999999999999" y2="1248.87" stroke="#000" stroke-width="1.1"/>
<line x1="76.6" y1="1237.57" x2="80.19999999999999" y2="1237.57" stroke="#000" stroke-width="1.1"/>
<line x1="76.6" y1="1229.55" x2="80.19999999999999" y2="1229.55" stroke="#000" stroke-width="1.1"/>
<line x1="76.6" y1="1223.33" x2="80.19999999999999" y2="1223.33" stroke="#000" stroke-width="1.1"/>
<line x1="76.6" y1="1218.24" x2="80.19999999999999" y2="1218.24" stroke="#000" stroke-width="1.1"/>
<line x1="76.6" y1="1213.94" x2="80.19999999999999" y2="1213.94" stroke="#000" stroke-width="1.1"/>
<line x1="76.6" y1="1210.22" x2="80.19999999999999" y2="1210.22" stroke="#000" stroke-width="1.1"/>
<line x1="76.6" y1="1206.94" x2="80.19999999999999" y2="1206.94" stroke="#000" stroke-width="1.1"/>
<line x1="76.6" y1="1204.00" x2="82.39999999999999" y2="1204.00" stroke="#000" stroke-width="1.1"/>
<line x1="76.6" y1="1184.67" x2="80.19999999999999" y2="1184.67" stroke="#000" stroke-width="1.1"/>
<line x1="76.6" y1="1173.37" x2="80.19999999999999" y2="1173.37" stroke="#000" stroke-width="1.1"/>
<line x1="76.6" y1="1165.35" x2="80.19999999999999" y2="1165.35" stroke="#000" stroke-width="1.1"/>
<line x1="76.6" y1="1159.13" x2="80.19999999999999" y2="1159.13" stroke="#000" stroke-width="1.1"/>
<line x1="76.6" y1="1154.04" x2="80.19999999999999" y2="1154.04" stroke="#000" stroke-width="1.1"/>
<line x1="76.6" y1="1149.74" x2="80.19999999999999" y2="1149.74" stroke="#000" stroke-width="1.1"/>
<line x1="76.6" y1="1146.02" x2="80.19999999999999" y2="1146.02" stroke="#000" stroke-width="1.1"/>
<line x1="76.6" y1="1142.74" x2="80.19999999999999" y2="1142.74" stroke="#000" stroke-width="1.1"/>
<line x1="76.6" y1="1139.80" x2="82.39999999999999" y2="1139.80" stroke="#000" stroke-width="1.1"/>
<line x1="91.08" y1="1480.2" x2="91.08" y2="1474.7" stroke="#000" stroke-width="1"/>
<line x1="120.03" y1="1480.2" x2="120.03" y2="1474.7" stroke="#000" stroke-width="1"/>
<line x1="148.98" y1="1480.2" x2="148.98" y2="1474.7" stroke="#000" stroke-width="1"/>
<line x1="177.93" y1="1480.2" x2="177.93" y2="1474.7" stroke="#000" stroke-width="1"/>
<line x1="206.89" y1="1480.2" x2="206.89" y2="1474.7" stroke="#000" stroke-width="1"/>
<line x1="235.84" y1="1480.2" x2="235.84" y2="1474.7" stroke="#000" stroke-width="1"/>
<line x1="264.79" y1="1480.2" x2="264.79" y2="1474.7" stroke="#000" stroke-width="1"/>
<line x1="293.74" y1="1480.2" x2="293.74" y2="1474.7" stroke="#000" stroke-width="1"/>
<line x1="322.70" y1="1480.2" x2="322.70" y2="1474.7" stroke="#000" stroke-width="1"/>
<line x1="351.65" y1="1480.2" x2="351.65" y2="1474.7" stroke="#000" stroke-width="1"/>
<line x1="380.60" y1="1480.2" x2="380.60" y2="1474.7" stroke="#000" stroke-width="1"/>
<line x1="409.55" y1="1480.2" x2="409.55" y2="1474.7" stroke="#000" stroke-width="1"/>
<line x1="438.50" y1="1480.2" x2="438.50" y2="1474.7" stroke="#000" stroke-width="1"/>
<line x1="467.46" y1="1480.2" x2="467.46" y2="1474.7" stroke="#000" stroke-width="1"/>
<line x1="496.41" y1="1480.2" x2="496.41" y2="1474.7" stroke="#000" stroke-width="1"/>
<line x1="525.36" y1="1480.2" x2="525.36" y2="1474.7" stroke="#000" stroke-width="1"/>
<line x1="554.31" y1="1480.2" x2="554.31" y2="1474.7" stroke="#000" stroke-width="1"/>
<line x1="583.27" y1="1480.2" x2="583.27" y2="1474.7" stroke="#000" stroke-width="1"/>
<line x1="612.22" y1="1480.2" x2="612.22" y2="1474.7" stroke="#000" stroke-width="1"/>
<line x1="641.17" y1="1480.2" x2="641.17" y2="1474.7" stroke="#000" stroke-width="1"/>
<line x1="670.12" y1="1480.2" x2="670.12" y2="1474.7" stroke="#000" stroke-width="1"/>
<text x="51.4" y="1469.10" font-size="21.5" text-anchor="end">10</text>
<line x1="51.8" y1="1457.30" x2="61.3" y2="1457.30" stroke="#000" stroke-width="1.3"/>
<text x="70.1" y="1460.80" font-size="14.5" text-anchor="end">1</text>
<text x="61.6" y="1404.90" font-size="21.5" text-anchor="end">10</text>
<text x="70.2" y="1396.30" font-size="14.5" text-anchor="end">0</text>
<text x="61.6" y="1340.70" font-size="21.5" text-anchor="end">10</text>
<text x="70.2" y="1332.10" font-size="14.5" text-anchor="end">1</text>
<text x="61.6" y="1276.50" font-size="21.5" text-anchor="end">10</text>
<text x="70.2" y="1267.90" font-size="14.5" text-anchor="end">2</text>
<text x="61.6" y="1212.30" font-size="21.5" text-anchor="end">10</text>
<text x="70.2" y="1203.70" font-size="14.5" text-anchor="end">3</text>
<text x="61.6" y="1148.10" font-size="21.5" text-anchor="end">10</text>
<text x="70.2" y="1139.50" font-size="14.5" text-anchor="end">4</text>
<text x="77.50" y="1116.80" font-size="28.3" text-anchor="start" font-weight="bold" >CMS</text>
<text x="506.4" y="1117.00" font-size="21" textLength="61" lengthAdjust="spacingAndGlyphs">137 fb</text>
<line x1="568.6" y1="1104.60" x2="578.8" y2="1104.60" stroke="#000" stroke-width="1.2"/>
<text x="585" y="1108.70" font-size="14.5" text-anchor="end">1</text>
<text x="593" y="1117.00" font-size="21.5" textLength="85.3" lengthAdjust="spacingAndGlyphs">(13 TeV)</text>
<text transform="translate(16.3,1126.6) rotate(-90)" font-size="23" text-anchor="end">Events</text>
<clipPath id="r3"><rect x="76.6" y="1501.8" width="608.0" height="77.79999999999995"/></clipPath>
<g clip-path="url(#r3)">
<line x1="76.6" y1="1553.67" x2="684.6" y2="1553.67" stroke="#b8b8b8" stroke-width="1"/>
<rect x="76.60" y="1549.20" width="28.95" height="9.80" fill="url(#hatch)"/>
<rect x="105.55" y="1535.80" width="28.95" height="35.50" fill="url(#hatch)"/>
<rect x="134.50" y="1549.20" width="28.95" height="9.80" fill="url(#hatch)"/>
<rect x="163.46" y="1545.60" width="28.95" height="16.40" fill="url(#hatch)"/>
<rect x="192.41" y="1549.20" width="28.95" height="9.80" fill="url(#hatch)"/>
<rect x="221.36" y="1549.20" width="28.95" height="9.80" fill="url(#hatch)"/>
<rect x="250.31" y="1549.20" width="28.95" height="9.80" fill="url(#hatch)"/>
<rect x="279.27" y="1549.20" width="28.95" height="9.80" fill="url(#hatch)"/>
<rect x="308.22" y="1549.20" width="28.95" height="9.80" fill="url(#hatch)"/>
<rect x="337.17" y="1549.20" width="28.95" height="9.80" fill="url(#hatch)"/>
<rect x="366.12" y="1549.20" width="28.95" height="9.80" fill="url(#hatch)"/>
<rect x="395.08" y="1549.20" width="28.95" height="9.80" fill="url(#hatch)"/>
<rect x="424.03" y="1549.20" width="28.95" height="9.80" fill="url(#hatch)"/>
<rect x="452.98" y="1549.20" width="28.95" height="9.80" fill="url(#hatch)"/>
<rect x="481.93" y="1549.20" width="28.95" height="9.80" fill="url(#hatch)"/>
<rect x="510.89" y="1549.20" width="28.95" height="9.80" fill="url(#hatch)"/>
<rect x="539.84" y="1539.00" width="28.95" height="30.40" fill="url(#hatch)"/>
<rect x="568.79" y="1549.20" width="28.95" height="9.80" fill="url(#hatch)"/>
<rect x="597.74" y="1545.80" width="28.95" height="15.60" fill="url(#hatch)"/>
<rect x="626.70" y="1548.00" width="28.95" height="12.00" fill="url(#hatch)"/>
<rect x="655.65" y="1548.00" width="28.95" height="12.00" fill="url(#hatch)"/>
<line x1="120.03" y1="1534.40" x2="120.03" y2="1572.20" stroke="#000" stroke-width="2.1"/>
<line x1="148.98" y1="1551.30" x2="148.98" y2="1559.80" stroke="#000" stroke-width="2.1"/>
<line x1="177.93" y1="1500.00" x2="177.93" y2="1561.10" stroke="#000" stroke-width="2.1"/>
<line x1="206.89" y1="1538.00" x2="206.89" y2="1550.90" stroke="#000" stroke-width="2.1"/>
<line x1="235.84" y1="1547.80" x2="235.84" y2="1565.60" stroke="#000" stroke-width="2.1"/>
<line x1="293.74" y1="1535.80" x2="293.74" y2="1546.40" stroke="#000" stroke-width="2.1"/>
<line x1="322.70" y1="1547.80" x2="322.70" y2="1560.20" stroke="#000" stroke-width="2.1"/>
<line x1="351.65" y1="1524.20" x2="351.65" y2="1546.40" stroke="#000" stroke-width="2.1"/>
<line x1="409.55" y1="1537.70" x2="409.55" y2="1553.30" stroke="#000" stroke-width="2.1"/>
<line x1="438.50" y1="1534.60" x2="438.50" y2="1551.10" stroke="#000" stroke-width="2.1"/>
<line x1="467.46" y1="1527.90" x2="467.46" y2="1558.20" stroke="#000" stroke-width="2.1"/>
<line x1="496.41" y1="1532.40" x2="496.41" y2="1554.70" stroke="#000" stroke-width="2.1"/>
<line x1="525.36" y1="1531.00" x2="525.36" y2="1543.50" stroke="#000" stroke-width="2.1"/>
<line x1="554.31" y1="1500.00" x2="554.31" y2="1553.30" stroke="#000" stroke-width="2.1"/>
<line x1="583.27" y1="1534.60" x2="583.27" y2="1550.20" stroke="#000" stroke-width="2.1"/>
<line x1="612.22" y1="1526.60" x2="612.22" y2="1580.00" stroke="#000" stroke-width="2.1"/>
<line x1="641.17" y1="1524.30" x2="641.17" y2="1542.20" stroke="#000" stroke-width="2.1"/>
<line x1="670.12" y1="1500.00" x2="670.12" y2="1564.50" stroke="#000" stroke-width="2.1"/>
</g>
<circle cx="91.08" cy="1546.40" r="3.3" fill="#000"/>
<circle cx="120.03" cy="1560.20" r="3.3" fill="#000"/>
<circle cx="148.98" cy="1555.30" r="3.3" fill="#000"/>
<circle cx="177.93" cy="1527.30" r="3.3" fill="#000"/>
<circle cx="206.89" cy="1545.60" r="3.3" fill="#000"/>
<circle cx="235.84" cy="1558.40" r="3.3" fill="#000"/>
<circle cx="264.79" cy="1547.30" r="3.3" fill="#000"/>
<circle cx="293.74" cy="1541.10" r="3.3" fill="#000"/>
<circle cx="322.70" cy="1554.40" r="3.3" fill="#000"/>
<circle cx="351.65" cy="1536.20" r="3.3" fill="#000"/>
<circle cx="380.60" cy="1547.20" r="3.3" fill="#000"/>
<circle cx="409.55" cy="1546.60" r="3.3" fill="#000"/>
<circle cx="438.50" cy="1543.50" r="3.3" fill="#000"/>
<circle cx="467.46" cy="1545.80" r="3.3" fill="#000"/>
<circle cx="496.41" cy="1545.80" r="3.3" fill="#000"/>
<circle cx="525.36" cy="1537.70" r="3.3" fill="#000"/>
<circle cx="554.31" cy="1507.00" r="3.3" fill="#000"/>
<circle cx="583.27" cy="1543.50" r="3.3" fill="#000"/>
<circle cx="612.22" cy="1579.60" r="3.3" fill="#000"/>
<circle cx="641.17" cy="1533.70" r="3.3" fill="#000"/>
<circle cx="670.12" cy="1536.40" r="3.3" fill="#000"/>
<rect x="76.6" y="1501.8" width="608.0" height="77.79999999999995" fill="none" stroke="#000" stroke-width="1.2"/>
<line x1="76.6" y1="1553.67" x2="82.19999999999999" y2="1553.67" stroke="#000" stroke-width="1.1"/>
<line x1="76.6" y1="1527.73" x2="82.19999999999999" y2="1527.73" stroke="#000" stroke-width="1.1"/>
<line x1="91.08" y1="1579.6" x2="91.08" y2="1574.1" stroke="#000" stroke-width="1"/>
<line x1="120.03" y1="1579.6" x2="120.03" y2="1574.1" stroke="#000" stroke-width="1"/>
<line x1="148.98" y1="1579.6" x2="148.98" y2="1574.1" stroke="#000" stroke-width="1"/>
<line x1="177.93" y1="1579.6" x2="177.93" y2="1574.1" stroke="#000" stroke-width="1"/>
<line x1="206.89" y1="1579.6" x2="206.89" y2="1574.1" stroke="#000" stroke-width="1"/>
<line x1="235.84" y1="1579.6" x2="235.84" y2="1574.1" stroke="#000" stroke-width="1"/>
<line x1="264.79" y1="1579.6" x2="264.79" y2="1574.1" stroke="#000" stroke-width="1"/>
<line x1="293.74" y1="1579.6" x2="293.74" y2="1574.1" stroke="#000" stroke-width="1"/>
<line x1="322.70" y1="1579.6" x2="322.70" y2="1574.1" stroke="#000" stroke-width="1"/>
<line x1="351.65" y1="1579.6" x2="351.65" y2="1574.1" stroke="#000" stroke-width="1"/>
<line x1="380.60" y1="1579.6" x2="380.60" y2="1574.1" stroke="#000" stroke-width="1"/>
<line x1="409.55" y1="1579.6" x2="409.55" y2="1574.1" stroke="#000" stroke-width="1"/>
<line x1="438.50" y1="1579.6" x2="438.50" y2="1574.1" stroke="#000" stroke-width="1"/>
<line x1="467.46" y1="1579.6" x2="467.46" y2="1574.1" stroke="#000" stroke-width="1"/>
<line x1="496.41" y1="1579.6" x2="496.41" y2="1574.1" stroke="#000" stroke-width="1"/>
<line x1="525.36" y1="1579.6" x2="525.36" y2="1574.1" stroke="#000" stroke-width="1"/>
<line x1="554.31" y1="1579.6" x2="554.31" y2="1574.1" stroke="#000" stroke-width="1"/>
<line x1="583.27" y1="1579.6" x2="583.27" y2="1574.1" stroke="#000" stroke-width="1"/>
<line x1="612.22" y1="1579.6" x2="612.22" y2="1574.1" stroke="#000" stroke-width="1"/>
<line x1="641.17" y1="1579.6" x2="641.17" y2="1574.1" stroke="#000" stroke-width="1"/>
<line x1="670.12" y1="1579.6" x2="670.12" y2="1574.1" stroke="#000" stroke-width="1"/>
<text x="70.5" y="1587.20" font-size="21.5" text-anchor="end">0</text>
<text x="70.5" y="1561.27" font-size="21.5" text-anchor="end">1</text>
<text x="70.5" y="1535.33" font-size="21.5" text-anchor="end">2</text>
<text x="70.5" y="1509.40" font-size="21.5" text-anchor="end">3</text>
<text transform="translate(47.8,1501.1) rotate(-90)" font-size="22.8" text-anchor="end">Data / Pred.</text>
<text transform="translate(95.28,1585.3999999999999) rotate(-90)" font-size="12.5" text-anchor="end">1</text>
<text transform="translate(124.23,1585.3999999999999) rotate(-90)" font-size="12.5" text-anchor="end">2</text>
<text transform="translate(153.18,1585.3999999999999) rotate(-90)" font-size="12.5" text-anchor="end">3</text>
<text transform="translate(182.13,1585.3999999999999) rotate(-90)" font-size="12.5" text-anchor="end">4</text>
<text transform="translate(211.09,1585.3999999999999) rotate(-90)" font-size="12.5" text-anchor="end">5</text>
<text transform="translate(240.04,1585.3999999999999) rotate(-90)" font-size="12.5" text-anchor="end">6</text>
<text transform="translate(268.99,1585.3999999999999) rotate(-90)" font-size="12.5" text-anchor="end">7</text>
<text transform="translate(297.94,1585.3999999999999) rotate(-90)" font-size="12.5" text-anchor="end">8</text>
<text transform="translate(326.90,1585.3999999999999) rotate(-90)" font-size="12.5" text-anchor="end">9</text>
<text transform="translate(355.85,1585.3999999999999) rotate(-90)" font-size="12.5" text-anchor="end">10</text>
<text transform="translate(384.80,1585.3999999999999) rotate(-90)" font-size="12.5" text-anchor="end">11</text>
<text transform="translate(413.75,1585.3999999999999) rotate(-90)" font-size="12.5" text-anchor="end">12</text>
<text transform="translate(442.70,1585.3999999999999) rotate(-90)" font-size="12.5" text-anchor="end">13</text>
<text transform="translate(471.66,1585.3999999999999) rotate(-90)" font-size="12.5" text-anchor="end">14</text>
<text transform="translate(500.61,1585.3999999999999) rotate(-90)" font-size="12.5" text-anchor="end">15</text>
<text transform="translate(529.56,1585.3999999999999) rotate(-90)" font-size="12.5" text-anchor="end">16</text>
<text transform="translate(558.51,1585.3999999999999) rotate(-90)" font-size="12.5" text-anchor="end">17</text>
<text transform="translate(587.47,1585.3999999999999) rotate(-90)" font-size="12.5" text-anchor="end">18</text>
<text transform="translate(616.42,1585.3999999999999) rotate(-90)" font-size="12.5" text-anchor="end">19</text>
<text transform="translate(645.37,1585.3999999999999) rotate(-90)" font-size="12.5" text-anchor="end">20</text>
<text transform="translate(674.32,1585.3999999999999) rotate(-90)" font-size="12.5" text-anchor="end">21</text>
<text x="684.6" y="1621.6" font-size="23.1" text-anchor="end">SR</text>
<text x="87.60" y="1195.30" font-size="22.2" text-anchor="start" font-weight="normal" >off-Z ML</text>
<line x1="202.60" y1="1157.10" x2="202.60" y2="1174.10" stroke="#000" stroke-width="2.1"/>
<circle cx="202.60" cy="1165.60" r="3" fill="#000"/>
<text x="231.60" y="1171.10" font-size="15.5">Data</text>
<rect x="186.60" y="1176.30" width="32" height="11" fill="#ffcc00"/>
<text x="231.60" y="1187.30" font-size="15.5">WZ</text>
<rect x="186.60" y="1193.10" width="32" height="11" fill="#66cc66"/>
<text x="231.60" y="1204.10" font-size="15.5">tt&#772;Z</text>
<rect x="283.00" y="1160.10" width="32" height="11" fill="#d9d9d9"/>
<text x="328.00" y="1171.10" font-size="15.5">Nonprompt lep.</text>
<rect x="283.00" y="1176.30" width="32" height="11" fill="#ff66ff"/>
<text x="328.00" y="1187.30" font-size="15.5">Rare</text>
<rect x="283.00" y="1193.10" width="32" height="11" fill="#006600"/>
<text x="328.00" y="1204.10" font-size="15.5">tt&#772;W</text>
<rect x="452.00" y="1160.10" width="32" height="11" fill="#666699"/>
<text x="497.00" y="1171.10" font-size="15.5">tt&#772;H</text>
<rect x="452.00" y="1176.30" width="32" height="11" fill="#6600cc"/>
<text x="497.00" y="1187.30" font-size="15.5">X&#947;</text>
<rect x="453.20" y="1195.50" width="30.6" height="10.4" fill="none" stroke="#c42b3c" stroke-width="1.5"/>
<text x="497.00" y="1205.50" font-size="16.2" textLength="115.4" lengthAdjust="spacingAndGlyphs">T1tttt (1600,600)</text>
<text x="618.50" y="1206.70" font-size="18">&#215;</text>
<text x="628.80" y="1205.80" font-size="16.5" textLength="20.5" lengthAdjust="spacingAndGlyphs">10</text>
</svg></body></html>
